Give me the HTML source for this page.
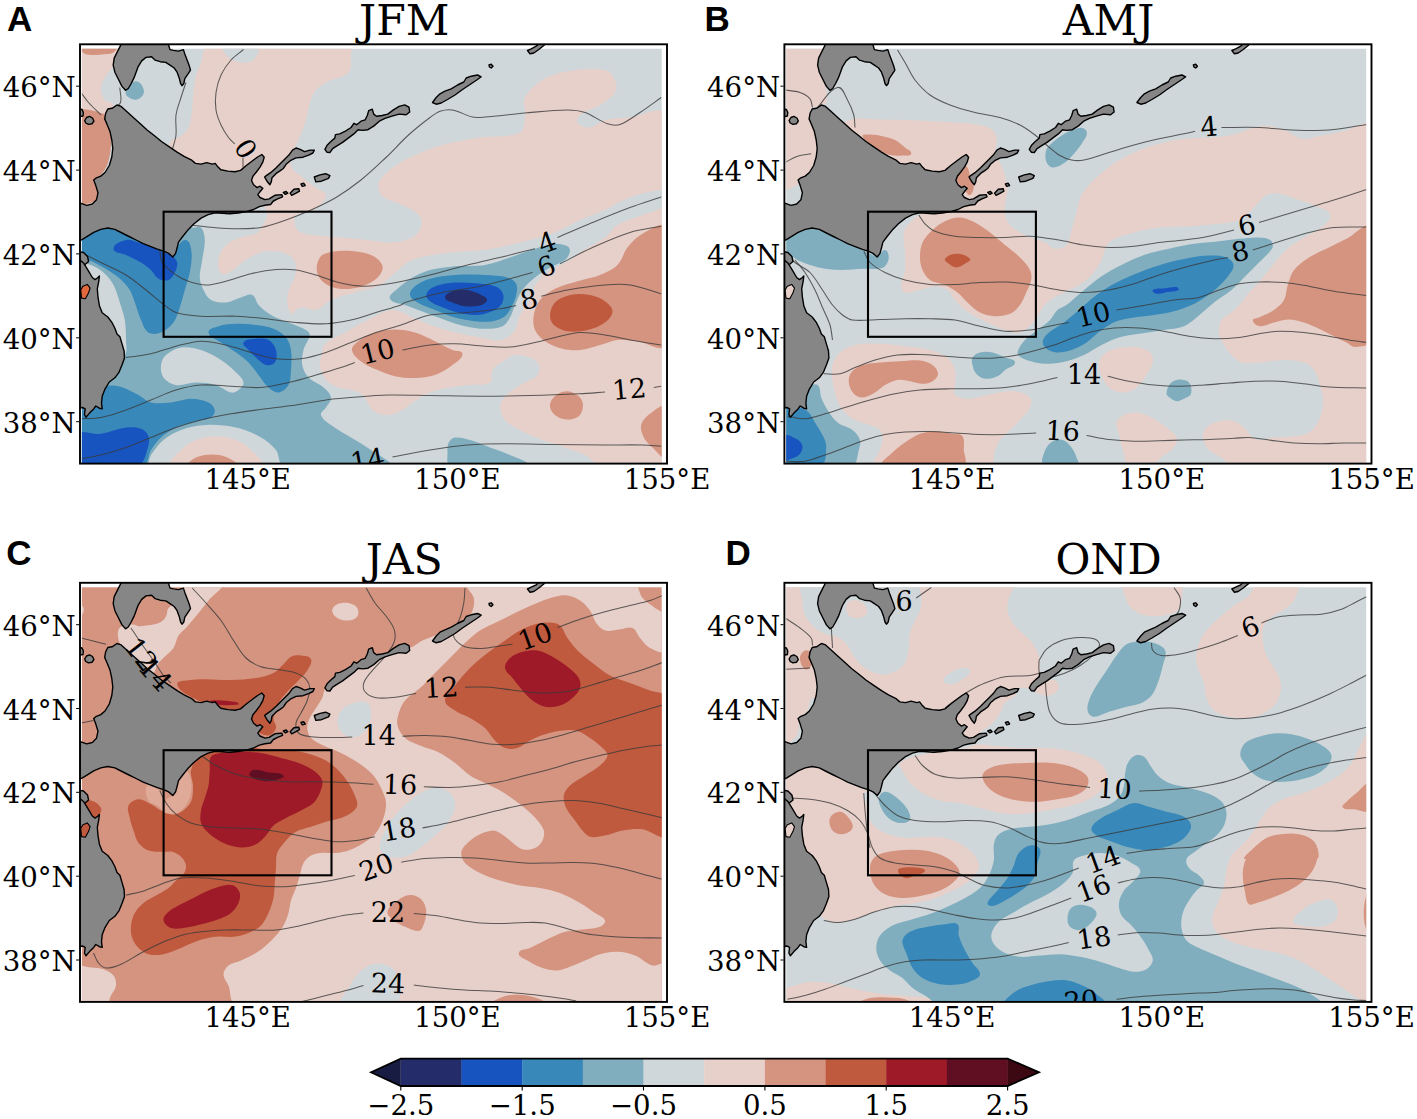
<!DOCTYPE html>
<html lang="en"><head><meta charset="utf-8"><title>Seasonal SST anomaly maps</title>
<style>html,body{margin:0;padding:0;background:#fff}svg{display:block}.se{font-family:"DejaVu Serif","Liberation Serif",serif;fill:#000}.sa{font-family:"Liberation Sans","DejaVu Sans",sans-serif;font-weight:bold;fill:#000}.cl{fill:none;stroke:#3a3a3a;stroke-width:1.05;stroke-opacity:.8}.ld{fill:#868686;stroke:#000;stroke-width:1.4;stroke-linejoin:round}</style></head><body>
<svg width="1417" height="1119" viewBox="0 0 1417 1119">
<rect width="1417" height="1119" fill="#fff"/>
<clipPath id="cfA"><rect x="81.9" y="48.7" width="579.8" height="414.9"/></clipPath>
<clipPath id="axA"><rect x="80" y="44.3" width="587" height="419.3"/></clipPath>
<g clip-path="url(#cfA)">
<rect x="80" y="44.3" width="587" height="419.3" fill="#cfd7da"/>
<path d="M76,45C79.4,31.8 105.2,38.6 117.2,45C123.2,48.2 115.9,58.7 113.5,65C111.7,69.7 107.1,73 104.8,77.5C102.9,81 101,84.8 101,88.8C101,92.7 102.4,96.9 104.8,100C106.8,102.7 113.1,102.1 113.5,105.5C113.8,108.6 106.2,108.1 106,111.2C105.3,122.5 112.2,133.8 111,145C109.7,157.2 101.7,168.2 98.5,180C96.7,186.4 97.8,193.6 96,200C95.3,202.5 93.5,205.5 91,206.2C86.3,207.7 76.5,211.2 76,206.2C71.1,153.3 62.8,96.6 76,45Z" fill="#e8d0ca"/>
<path d="M208.5,45C202.3,45.7 203.3,56.7 201,62.5C199,67.4 196.7,72.4 195.5,77.5C194,84 193.7,90.9 193,97.5C192.4,103.3 192.4,109.3 191.5,115C190.9,119.2 190.4,123.7 188.5,127.5C186.8,130.9 184,133.9 181,136.2C178.5,138.2 174.4,137.7 172.2,140C169.9,142.6 166.6,147 168.5,150C173,156.9 181.2,161.2 188.5,165C200.3,171.2 213.5,175.4 226,180C235.8,183.6 247.1,184.5 256,190C259.9,192.4 260.4,198.3 262.2,202.5C264.1,206.6 267.2,210.6 267.2,215C267.2,219.1 264.3,222.8 262.2,226.2C260.6,229 258.8,232.2 256,233.8C251.5,236.1 245.8,235.9 241,237.5C236.7,238.9 232.1,240.3 228.5,243C225.2,245.4 222.3,248.8 220.5,252.5C218.7,256.3 217.7,260.8 218,265C218.3,268.2 219.4,272.4 222.2,273.8C225,275.1 228.4,272.7 231,271.2C235.1,268.9 238.4,265.2 242.2,262.5C245.8,260 249.5,257.4 253.5,255.5C257.4,253.6 261.7,251.8 266,251.2C270.9,250.6 276.2,250.9 281,252C285,253 289.3,254.7 292.2,257.5C294.5,259.7 295.6,263.1 296,266.2C296.5,270 295.8,273.9 294.8,277.5C293.7,281 291,284 289.8,287.5C288.6,290.7 287.4,294.1 287.2,297.5C287,301.2 287.2,305.2 288.5,308.8C289.4,311.2 291.2,313.7 293.5,315C298,317.6 303.8,317.7 308.5,320C313.8,322.7 321.2,324.5 323.5,330C326.4,336.8 323,345.1 322.2,352.5C321.8,356.7 319.2,360.8 319.8,365C320.5,370.3 322.6,375.9 326,380C329.1,383.7 334,385.7 338.5,387.5C342.4,389.1 346.9,388.9 351,390C354.4,390.9 357.9,392.1 361,393.8C362.6,394.6 364,396 365,397.5C367.8,401.4 368.7,407 372.5,410C376.6,413.2 382.3,415 387.5,415C392.7,415 397.8,412.3 402.5,410C406.2,408.2 409,404.7 412.5,402.5C418.1,398.9 423.8,395 430,392.5C436.3,390 443.3,388.8 450,387.5C456.5,386.3 463.4,385.8 470,385C476.6,384.2 484.5,386.2 490,382.5C493.5,380.2 490.2,373.5 492.5,370C495.4,365.6 500.6,362.9 505,360C508.1,358 511.3,355.4 515,355C520,354.5 525.4,355.6 530,357.5C533.5,359 537.3,361.5 538.8,365C540.1,368.1 539.6,372.4 537.5,375C534.5,378.8 529.1,380 525,382.5C520.9,385 516.3,387 512.5,390C508.8,392.9 505.2,396.2 502.5,400C501,402.1 499.7,404.9 500,407.5C500.6,411.9 502,416.7 505,420C509,424.4 514.8,427.2 520,430C527.2,433.8 534.9,437.1 542.5,440C549.8,442.8 557.6,444.9 565,447.5C571.6,449.8 578.7,451.8 585,455C590.3,457.7 594.1,464.3 600,465C621.3,467.7 661.1,486.1 665,465C686.1,351.4 676.6,229.9 665,115C663.8,103.5 641.5,116.5 630,117.5C621.7,118.2 613,118 605,120C599.6,121.3 595.5,127 590,127.5C585.6,127.9 580.3,126 577.5,122.5C575.9,120.5 577.9,116.6 580,115C585.8,110.5 593.8,109 600,105C605.4,101.5 611.7,98 615,92.5C617.1,89 616.7,83.8 615,80C613.1,75.7 609.6,70.8 605,70C592.8,67.8 579.7,69.3 567.5,71.2C558.9,72.6 549.9,75.4 542.5,80C535.6,84.3 528.7,90.2 525,97.5C522.4,102.7 525.8,109.3 525,115C524.2,120.9 525.4,129.8 520,132.5C508.1,138.4 493.1,135.4 480,137.5C467.5,139.5 454.6,141.4 442.5,145C429.7,148.8 416.6,153.5 405,160C395.8,165.2 385.9,171.3 380,180C377.2,184.1 377.9,191.3 381.2,195C386.4,200.8 395.7,201.4 402.5,205C408.1,208 414.6,210.3 418.8,215C421.3,217.9 422.3,222.6 421.2,226.2C420,230.8 416.6,235.2 412.5,237.5C406.6,240.8 399.3,242.1 392.5,242.5C384.2,243 375.8,240.8 367.5,240C359.2,239.2 350.8,238.2 342.5,237.5C337.1,237 331.4,236.9 326,236.2C317.7,235.3 308.8,235.3 301,232.5C298,231.4 295.6,228.1 294.8,225C293.8,221.8 293.5,217.1 296,215C299.9,211.7 306.7,214 311,211.2C316.9,207.5 325.3,203.2 326,196.2C326.5,191 317.6,189.6 313.5,186.2C309.4,182.9 304.9,179.8 301,176.2C297.5,173.1 292.3,170.7 291,166.2C289.5,161 292,155.2 293.5,150C294.5,146.5 297.1,143.4 298.5,140C301.2,133.5 304,126.8 306,120C307.7,114.3 307.9,108.1 309.8,102.5C311.2,98.1 312.9,93.5 316,90C319.3,86.2 324.1,83.6 328.5,81.2C334.8,77.8 343.8,78 348.5,72.5C352.3,68.1 350.7,60.8 351,55C351.2,51.7 353.1,45.2 349.8,45C303.3,41.7 254.8,39.6 208.5,45Z" fill="#e8d0ca"/>
<path d="M171,465C165.2,463.9 176.8,454.2 181,450C185.2,445.8 190.5,442.2 196,440C202.3,437.5 209.3,436.2 216,436.2C222.7,436.2 229.7,437.5 236,440C241.5,442.2 246.8,445.8 251,450C255.2,454.2 266.8,463.9 261,465C231.8,470.5 200.2,470.5 171,465Z" fill="#e8d0ca"/>
<path d="M223.5,45C219.4,46.8 225.4,54.4 228.5,57.5C231.6,60.6 236.6,62.1 241,62.5C245.2,62.9 250.6,63.1 253.5,60C257,56.3 261.8,47.3 257.2,45C247.3,40 233.7,40.6 223.5,45Z" fill="#cfd7da"/>
<path d="M331,300C338.6,296.6 347.1,294.9 355,292.5C363.2,290 372.3,288.9 380,285C385.8,282.1 389.9,276.4 395,272.5C400.6,268.2 405.8,262.4 412.5,260C424.4,255.7 437.5,254.2 450,252.5C461.5,250.9 473.5,251.6 485,250C496.7,248.3 508.5,245.4 520,242.5C531.7,239.6 543.8,236.7 555,232.5C563.6,229.3 571.6,223.8 580,220C588.1,216.4 596.9,213.6 605,210C613.4,206.2 621.2,200.3 630,197.5C641.2,194 653.5,188.8 665,191.2C669.4,192.2 668.1,201.7 665,205C659.4,210.9 650,211.8 642.5,215C634.3,218.4 625.1,220.4 617.5,225C612.5,228 609.7,234.1 605,237.5C597.2,243.2 588.1,247.3 580,252.5C576.5,254.7 573.5,257.8 570,260C562.8,264.5 554.4,267.6 547.5,272.5C542.8,275.9 538.1,280.1 535,285C532.2,289.4 532.3,295.3 530,300C527.3,305.3 522.7,309.7 520,315C517.7,319.7 518,325.7 515,330C512,334.3 507.7,338.9 502.5,340C495.2,341.6 487.4,338.7 480,337.5C471.7,336.2 463.2,334.5 455,332.5C446.6,330.4 438.1,327.9 430,325C424.1,322.9 418.3,319.8 412.5,317.5C406,314.9 399.5,309.6 392.5,310C383.6,310.5 375.5,316.2 367.5,320C359.8,323.6 352.5,328.5 345,332.5C340.1,335.1 334.9,337.3 330,340C327.3,341.5 324.7,346.7 322.2,345C315.7,340.4 314,330.8 308.5,325C304.4,320.7 295.8,320.5 293.5,315C292.1,311.8 297.6,308.3 301,307.5C305.9,306.4 311.1,311.2 316,310C321.8,308.6 325.6,302.4 331,300Z" fill="#cfd7da"/>
<path d="M76,113.8C78.8,105.1 94.9,110.9 103.5,113.8C107.5,115.1 108.8,120.9 109.8,125C111.3,131.4 111.4,138.4 111,145C110.6,151.7 109.5,158.7 107.2,165C105.3,170.4 100.3,174.5 98.5,180C96.5,186.3 101,195.6 96,200C91.1,204.4 77.5,206.4 76,200C69.6,172.3 67.4,140.9 76,113.8Z" fill="#d49480"/>
<path d="M81,45C92.6,42.2 105.6,42.3 117.2,45C119.9,45.6 115.9,51.1 113.5,52.5C109.9,54.6 105.2,54 101,54.5C97.7,54.9 94.3,55.3 91,55C88.4,54.8 85.3,54.8 83.5,53C81.5,51 78.3,45.6 81,45Z" fill="#d49480"/>
<path d="M317.2,263.8C318.2,260.6 319.5,256.8 322.2,255C326.2,252.4 331.3,251.8 336,251.2C341.7,250.6 347.8,250.6 353.5,251.2C359.4,251.9 365.7,252.5 371,255C375.5,257.1 380.3,260.4 382.2,265C383.6,268.1 381.8,272.3 379.8,275C377,278.8 372.7,281.7 368.5,283.8C363.1,286.3 357,288.1 351,288.8C345.2,289.4 339.1,289 333.5,287.5C329.4,286.4 325.4,284.1 322.2,281.2C319.8,279 318.2,275.7 317.2,272.5C316.5,269.7 316.5,266.5 317.2,263.8Z" fill="#d49480"/>
<path d="M352,350C351.5,345.8 356.6,342.6 360,340C364.4,336.6 369.7,334.1 375,332.5C381.4,330.6 388.3,329.5 395,329.5C401.7,329.5 408.6,330.6 415,332.5C421.9,334.5 428.5,338.2 435,341.2C440.9,344 446.6,347.3 452.5,350C455.7,351.5 462.5,350.2 462.5,353.8C462.5,358.7 456.4,362 452.5,365C447.2,369.1 441.3,372.8 435,375C428.7,377.2 421.7,377.8 415,378C408.4,378.2 401.5,377.6 395,376.2C389,375 383.1,372.4 377.5,370C372.4,367.8 366.9,365.9 362.5,362.5C358.3,359.2 352.6,355.4 352,350Z" fill="#d49480"/>
<path d="M665,227.5C663.5,219.9 649.3,230.1 642.5,233.8C636.6,236.9 631.7,242.3 627.5,247.5C623.3,252.7 622.2,260.3 617.5,265C612.8,269.7 606.2,272.5 600,275C592.9,277.9 584.9,279 577.5,281.2C570,283.5 562,285.2 555,288.8C549.5,291.5 543.9,295.2 540,300C536.6,304.2 534.6,309.7 533.8,315C532.9,319.9 533,325.4 535,330C537,334.6 540.9,338.5 545,341.2C550.2,344.8 556.4,347.2 562.5,348.8C568.1,350.2 574.2,350.6 580,350C586.8,349.3 593.4,346.8 600,345C605.8,343.5 611.5,340.6 617.5,340C624.1,339.3 630.9,340.6 637.5,341.2C646.6,342.2 662.8,353.9 665,345C674.1,307.3 672.7,265.5 665,227.5Z" fill="#d49480"/>
<path d="M550,405C550.2,401.1 553.2,397.4 556.2,395C559.3,392.6 563.6,391 567.5,391.2C571.6,391.5 575.7,393.6 578.8,396.2C581.2,398.4 583,401.8 583,405C583,409 581.8,413.7 578.8,416.2C575.5,419 570.5,419.7 566.2,419.5C562.3,419.3 558,417.7 555,415C552.2,412.5 549.8,408.7 550,405Z" fill="#d49480"/>
<path d="M665,407.5C663.2,402.4 654.3,410.6 650,413.8C646.2,416.5 642.4,420.5 641.2,425C640.2,429.1 641.9,433.7 643.8,437.5C645.7,441.4 649.2,444.6 652.5,447.5C656.3,450.8 663.5,461.1 665,456.2C669.8,440.9 670.4,422.7 665,407.5Z" fill="#d49480"/>
<path d="M188.5,465C185.1,464.4 192.8,459 196,457.5C200.6,455.4 206,454.6 211,454.5C216,454.4 221.4,455.1 226,457C229.9,458.6 240.1,464.1 236,465C220.7,468.3 203.9,467.9 188.5,465Z" fill="#d49480"/>
<path d="M78.5,288.8C80.3,286.3 84.4,285.4 87.2,286.2C89.6,286.9 91,290.1 91,292.5C91,295.3 89.8,298.9 87.2,300C84.5,301.2 80.3,300.3 78.5,298C76.6,295.6 76.7,291.2 78.5,288.8Z" fill="#c05a3e"/>
<path d="M550,315C550.2,310.6 551.9,305.6 555,302.5C558.9,298.6 564.6,296.2 570,295C576.5,293.6 583.5,293.8 590,295C595.3,295.9 600.7,298.1 605,301.2C608.3,303.7 612.5,307.1 612.5,311.2C612.5,315.7 608.6,319.8 605,322.5C600,326.3 593.6,328.6 587.5,330C581.1,331.5 574,332.2 567.5,331.2C562.6,330.5 557.4,328.4 553.8,325C551.2,322.6 549.8,318.5 550,315Z" fill="#c05a3e"/>
<path d="M193.5,227.5C196,227.5 199.3,225.7 201,227.5C203.9,230.7 204.6,235.7 204.8,240C205,246.6 203.1,253.4 202.2,260C201.5,265.8 199.5,271.7 199.8,277.5C199.9,281.8 201.6,286.1 203.5,290C205.3,293.7 207.4,298 211,300C215.4,302.4 221,302.9 226,302.5C231.2,302.1 236,298.9 241,297.5C244.7,296.5 248.8,293.5 252.2,295C255.8,296.5 255.8,302.2 258.5,305C262.1,308.9 266.4,312.3 271,315C276.4,318.2 282.7,320 288.5,322.5C294.3,325 300.6,326.8 306,330C307.8,331 310,333 309.8,335C309.1,340.3 304.8,344.8 303.5,350C302.3,354.8 301.4,360.1 302.2,365C303.1,369.5 305.3,374.1 308.5,377.5C312.6,381.8 319.1,383.5 323.5,387.5C326.6,390.2 330.5,393.4 331,397.5C331.5,401.2 327.8,404.3 326,407.5C324.5,410.1 320.2,412.1 321,415C322.3,419.5 327.3,422.2 331,425C337.2,429.7 344.4,433.4 351,437.5C357.6,441.6 364.7,445.4 371,450C377.1,454.5 396,463.7 388.5,465C354.3,470.9 317.8,469.6 283.5,465C278,464.3 279.5,454.3 276,450C271.9,445 266.6,440.7 261,437.5C253.3,433.1 244.7,429.5 236,427.5C226.3,425.3 215.9,424.5 206,425C197.6,425.4 188.9,427.2 181,430C174.7,432.2 168.6,435.7 163.5,440C158.6,444.1 154.7,449.7 151,455C148.9,458 149.7,464.5 146,465C122.3,468.1 80.5,487.9 73.5,465C50.6,390 49.2,302 73.5,227.5C81.4,203.2 125.4,227.5 151,227.5C165,227.5 179.5,227.5 193.5,227.5Z" fill="#81aebe"/>
<path d="M161,365C161.4,361.3 163.2,357.4 166,355C170.2,351.4 175.5,348.3 181,347.5C187.6,346.6 194.7,348 201,350C208,352.2 214.8,356 221,360C226.4,363.5 231.4,367.9 236,372.5C238.9,375.4 242.9,378.4 243.5,382.5C243.9,385.4 240.8,388.1 238.5,390C236.5,391.6 233.5,393.1 231,392.5C225.6,391.3 221.3,386.5 216,385C209.6,383.2 202.7,382.5 196,382.5C189.3,382.5 182.6,386 176,385C171.2,384.3 166.4,381.3 163.5,377.5C161,374.1 160.5,369.2 161,365Z" fill="#cfd7da"/>
<path d="M76,262.5C79.9,259.3 86.3,263.3 91,265C95.5,266.6 99.9,269.3 103.5,272.5C107.4,276 111,280.4 113.5,285C116.4,290.4 117.9,296.7 119.8,302.5C121.6,308.2 123.8,314.1 124.8,320C125.8,326.5 126,333.4 126,340C126,345 127.9,351.2 124.8,355C122.4,357.9 115.4,358.2 113.5,355C106.4,343.1 107,327.4 101,315C94.5,301.6 82.4,290.9 76,277.5C73.9,273 72.2,265.7 76,262.5Z" fill="#cfd7da"/>
<path d="M126,91.2C128.4,87.2 131.3,81.2 136,81.2C140.2,81.2 143.7,87 144,91.2C144.2,94.8 140.6,98.5 137.2,99.5C133.9,100.5 130,98.3 127.2,96.2C125.9,95.2 125.1,92.7 126,91.2Z" fill="#81aebe"/>
<path d="M390,298.8C388.3,295 394.5,291.6 397.5,288.8C402,284.5 407.1,280.6 412.5,277.5C417.9,274.4 423.9,271.6 430,270C438.1,267.9 446.7,267 455,266.2C464.9,265.4 475.2,266.6 485,265C493.5,263.6 501.8,260.2 510,257.5C518.3,254.8 526.6,251.3 535,248.8C541.5,246.8 548.2,244.3 555,243.8C559.2,243.4 563.7,244.4 567.5,246.2C569.1,247.1 570.3,249.4 570,251.2C569.4,254.5 567.6,257.9 565,260C560.7,263.5 554.8,264.7 550,267.5C544.9,270.5 539.6,273.7 535,277.5C530.5,281.2 525.9,285.3 522.5,290C519.2,294.5 517.3,300 515,305C513.2,309 512.3,313.7 510,317.5C508.1,320.8 506,324.7 502.5,326.2C497.2,328.6 490.8,328.8 485,328.8C478.3,328.8 471.5,327.7 465,326.2C458.2,324.8 451.5,322.2 445,320C438.3,317.7 431.6,315 425,312.5C418.4,310 411.6,307.6 405,305C400,303 392.2,303.6 390,298.8Z" fill="#81aebe"/>
<path d="M448.8,442.5C449.9,440.1 452.4,437.8 455,437.5C460,436.9 465.2,438.6 470,440C476.8,441.9 483.4,445 490,447.5C496.6,450 503.6,452 510,455C516,457.8 534.1,463.9 527.5,465C502.3,469.2 475.3,468.9 450,465C445.8,464.4 447.7,456.7 447.5,452.5C447.3,449.2 447.3,445.5 448.8,442.5Z" fill="#81aebe"/>
<path d="M76,237.5C78.7,232.6 85.7,231.8 91,230C95.8,228.4 101.1,226.5 106,227.5C117.2,229.9 128,235.4 138.5,240C149.8,244.9 160.2,253.4 172.2,256.2C174.9,256.9 174.2,250.9 176,248.8C178.8,245.4 181.7,239 186,240C190.4,241.1 191,248 191.5,252.5C192.3,259.1 190.9,266 189.8,272.5C188.7,278.4 186.4,284.2 184.8,290C183.1,295.8 181.7,301.8 179.8,307.5C178,312.6 176.7,318.2 173.5,322.5C170.3,326.7 165.9,330.5 161,332.5C157.2,334 152,334.7 148.5,332.5C144.4,330 143,324.4 141,320C138.4,314.4 136.9,308.2 134.8,302.5C133.2,298.3 132.2,293.7 129.8,290C126.7,285.3 122.7,281.1 118.5,277.5C114,273.6 108.6,270.5 103.5,267.5C98.7,264.7 93.7,261.9 88.5,260C84.5,258.6 78,261.2 76,257.5C72.8,251.7 72.8,243.3 76,237.5Z" fill="#3888ba"/>
<path d="M208.5,332.5C207.9,328.7 214.8,327.4 218.5,326.2C224.1,324.5 230.2,323.9 236,323.8C242.6,323.5 249.4,324.1 256,325C261.9,325.8 268,326.5 273.5,328.8C278.1,330.7 282.8,333.6 286,337.5C288.8,340.9 290.3,345.6 291,350C292,356.5 291.5,363.4 291,370C290.6,375 290.9,380.6 288.5,385C286.5,388.6 282.6,392 278.5,392.5C274.8,393 271.3,389.9 268.5,387.5C264.5,384 261.8,379.1 258.5,375C255.2,370.9 252.2,366.2 248.5,362.5C244.8,358.8 240.3,355.6 236,352.5C231.2,349 225.8,346 221,342.5C216.7,339.4 209.3,337.7 208.5,332.5Z" fill="#3888ba"/>
<path d="M73.5,410C78,398.5 92.6,393.3 103.5,387.5C107.9,385.2 113.6,385.2 118.5,386.2C125.5,387.8 132.1,391.8 138.5,395C142.8,397.2 146.3,401.4 151,402.5C157.4,404 164.4,403.1 171,402.5C177.7,401.9 184.3,398.8 191,398.8C196.9,398.8 203.2,400 208.5,402.5C211.4,403.9 214.2,406.8 214.8,410C215.2,412.7 213.4,416.1 211,417.5C206.6,420.1 200.9,419.8 196,421.2C189.4,423.1 182.3,424.6 176,427.5C170.6,430 165.4,433.5 161,437.5C157.1,441 153.8,445.5 151,450C148,454.7 148.9,463.9 143.5,465C120.8,469.4 91.7,479.3 73.5,465C59.2,453.8 66.9,426.9 73.5,410Z" fill="#3888ba"/>
<path d="M410,295C409.5,291.7 412.4,288.3 415,286.2C419.3,282.8 424.7,280.2 430,278.8C438,276.5 446.7,275.6 455,275C464.9,274.3 475.1,274.5 485,275C492.5,275.4 500.3,275.5 507.5,277.5C510.9,278.5 514.7,280.6 516.2,283.8C517.9,287.1 517,291.4 516.2,295C515.3,299.3 513.3,303.6 511.2,307.5C509.6,310.6 507.9,314.2 505,316.2C501.4,318.9 496.9,320.5 492.5,321.2C486.8,322.2 480.7,321.8 475,321.2C468.3,320.6 461.5,319.3 455,317.5C448.2,315.6 441.5,312.6 435,310C429.2,307.7 422.9,305.7 417.5,302.5C414.5,300.7 410.5,298.5 410,295Z" fill="#3888ba"/>
<path d="M113.5,248.8C113.5,243.7 121.1,241.2 126,240C130.1,239 134.5,241.3 138.5,242.5C145.2,244.6 152,247.3 158.5,250C163.1,251.9 168.1,253.5 172.2,256.2C174.4,257.7 176.8,259.9 177.2,262.5C177.8,265.9 176.3,269.5 174.8,272.5C173.3,275.4 171.5,278.8 168.5,280C165.4,281.2 161.4,280.4 158.5,278.8C155.2,276.9 153.8,272.6 151,270C148,267.2 144.5,264.6 141,262.5C136.3,259.7 130.9,257.5 126,255C121.9,252.9 113.5,253.4 113.5,248.8Z" fill="#1854c0"/>
<path d="M243.5,342.5C245.9,338.9 251.7,339.2 256,338.8C260.1,338.3 264.9,338 268.5,340C272.1,342 274.9,346 276,350C277.1,354 277,359.1 274.8,362.5C273.1,365 268.9,365.8 266,365C262,363.9 259.1,360.2 256,357.5C253.3,355.2 250.7,352.7 248.5,350C246.6,347.7 241.8,345 243.5,342.5Z" fill="#1854c0"/>
<path d="M73.5,435C79.5,428.2 92,435 101,433.8C109.4,432.5 117.6,428.6 126,427.5C130.9,426.9 136.4,426.9 141,428.8C144.3,430 147.5,432.9 148.5,436.2C149.8,440.6 148.7,445.7 147.2,450C145.4,455.4 144.1,463.9 138.5,465C117.5,469.3 93,474 73.5,465C64.5,460.9 67,442.4 73.5,435Z" fill="#1854c0"/>
<path d="M426.2,295C426.8,291.8 429.6,289 432.5,287.5C437.8,284.8 444.1,283.7 450,283C457.4,282.2 465.1,282.5 472.5,283C480,283.5 487.8,284 495,286.2C498.1,287.2 501.1,289.6 502.5,292.5C503.9,295.5 503.8,299.5 502.5,302.5C501.1,305.7 498.1,308.4 495,310C489.6,312.7 483.5,314.6 477.5,315C470.9,315.4 464,314 457.5,312.5C451.5,311.1 445.7,308.6 440,306.2C436.6,304.9 432.9,303.6 430,301.2C428.1,299.7 425.8,297.4 426.2,295Z" fill="#1854c0"/>
<path d="M445,297.5C445,294.3 449.4,292.3 452.5,291.2C457.2,289.7 462.6,289.4 467.5,290C472.3,290.6 477,292.8 481.2,295C483.5,296.1 487.3,297.5 487,300C486.7,302.9 482.8,304.7 480,305.5C475.2,306.9 469.9,306.8 465,306.2C460.7,305.8 456.4,304.2 452.5,302.5C449.8,301.3 445,300.5 445,297.5Z" fill="#252c6a"/>
</g>
<g clip-path="url(#cfA)" class="cl">
<path d="M243.5,49.5C239.4,53 234.6,56 231,60C227.1,64.5 223.5,69.6 221,75C218.5,80.5 216.8,86.6 216,92.5C215.2,98.2 215.1,104.3 216,110C216.8,115.2 218.8,120.2 221,125C223,129.4 225.7,133.6 228.5,137.5C230.2,139.9 232.7,141.7 234.8,143.8"/>
<path d="M243,157.5 L243,167.5"/>
<path d="M81,92.5C83.5,95.8 85.8,99.4 88.5,102.5C92.4,106.9 96.9,110.9 101,115"/>
<path d="M119.8,87.5C120,92.5 121.9,97.7 120.5,102.5C119.6,105.5 115.8,106.7 113.5,108.8"/>
<path d="M186,82.5C184.3,87.5 182.5,92.5 181,97.5C179.2,103.2 176.8,109 176,115C175.1,121.5 176.7,128.4 176,135C175.5,140.1 173.5,145.1 172.2,150"/>
<path d="M191,225C198.4,225.8 206.1,226.9 213.5,227.5C220.9,228.1 228.6,228.8 236,228.8C244.3,228.8 252.9,228.9 261,227.5C269.5,226 277.9,222.8 286,220C294.4,217.1 302.9,213.6 311,210C319.4,206.2 328.1,202.2 336,197.5C344.6,192.3 353.1,186.3 361,180C369.7,173.1 377.9,165.1 386,157.5C393.6,150.3 400.7,142.1 408.5,135C415.3,128.8 422.7,123 430,117.5C433.1,115.2 436.3,112.5 440,111.2C443.9,109.9 448.4,109.3 452.5,110C459.4,111.2 465.7,115.5 472.5,117C476.5,117.9 480.9,117.3 485,117C498.2,116 511.8,114.1 525,113C539,111.8 553.4,110.1 567.5,110C573.3,110 579.5,110.6 585,112.5C592.9,115.2 599.6,121.1 607.5,123.8C611.4,125.1 616.1,125.9 620,124.5C627.3,122 633.6,116.7 640,112.5C647.2,107.8 654.2,102.5 661.2,97.5"/>
<path d="M159.8,250C160.6,254.1 160,259 162.2,262.5C165.6,267.6 171,271.4 176,275C179.8,277.7 184.1,279.8 188.5,281.2C194.1,283.1 200.1,285 206,285C212.7,285 219.5,282.9 226,281.2C234.4,279.2 242.6,275.7 251,273.8C259.1,271.8 267.7,270.2 276,269.5C282.6,269 289.5,269.1 296,270C302.7,270.9 309.5,273.1 316,275C323.5,277.2 330.9,280.7 338.5,282.5C346.6,284.4 355.2,286 363.5,286.2C371.8,286.5 380.3,285 388.5,283.8C396.8,282.5 405.3,280.5 413.5,278.8C419,277.6 424.6,276.4 430,275C442.4,271.8 455.1,268.1 467.5,265C479.8,261.9 492.6,259.2 505,256.2C514.9,253.9 525.1,251.2 535,248.8"/>
<path d="M557.5,237.5C569,232.6 580.9,227.3 592.5,222.5C604.8,217.4 617.5,212.1 630,207.5C640.2,203.7 650.9,200.5 661.2,197"/>
<path d="M81,252.5C87.6,255.8 94.4,259.2 101,262.5C109.2,266.6 118.1,270.2 126,275C133,279.3 139.5,284.9 146,290C151.1,294 155.8,298.6 161,302.5C165.8,306.1 170.4,310.6 176,312.5C183.9,315.2 192.7,315.7 201,316.2C212.5,317 224.5,315.8 236,316.2C245.9,316.6 256.1,317.7 266,318.8C275.9,319.8 286.1,321.7 296,322.5C305.9,323.3 316.1,324.2 326,323.8C334.3,323.4 342.9,321.8 351,320C359.4,318.1 367.8,315 376,312.5C384.2,310 392.9,307.8 401,305C402.5,304.5 403.5,302.9 405,302.5C417.3,298.8 430,295.2 442.5,292.5C454.8,289.8 467.7,288.8 480,286.2C490,284.2 500.1,281.3 510,278.8C517.5,276.8 525.1,274.6 532.5,272.5"/>
<path d="M560,263.8C570.7,258.4 581.6,252.4 592.5,247.5C604.7,242.1 617.3,236.4 630,232.5C640,229.4 650.9,228.3 661.2,226.2"/>
<path d="M126,357.5C134.2,356.3 142.9,355.6 151,353.8C159.4,351.9 167.6,348.3 176,346.2C184.2,344.2 192.6,341.5 201,341.2C209.3,341 217.9,343.2 226,345C234.4,346.9 242.7,350.2 251,352.5C259.2,354.8 267.6,357.7 276,358.8C284.2,359.8 292.8,359.8 301,358.8C309.4,357.7 317.9,355.1 326,352.5C334.5,349.8 342.8,345.8 351,342.5C359.2,339.2 367.6,335.4 376,332.5C384.1,329.7 392.8,327.7 401,325C410.6,321.9 420.1,316.9 430,315C442.2,312.7 455.1,313.6 467.5,312.5C478.3,311.5 489.3,310.3 500,308.8C505.4,308 510.9,306.6 516.2,305.5"/>
<path d="M541.2,296.2C549.9,294.2 558.7,291.5 567.5,290C579.8,287.8 592.6,286 605,285C613.2,284.3 621.8,283.7 630,285C640.6,286.6 650.9,290.9 661.2,293.8"/>
<path d="M79.8,418.8C86.8,418.3 94.1,418.8 101,417.5C109.5,415.9 117.9,412.8 126,410C134.4,407.1 142.8,403.3 151,400C159.2,396.7 167.5,392.6 176,390C184.1,387.6 192.6,385.6 201,385C210.9,384.3 221.1,385.8 231,386.2C240.9,386.7 251.1,388.1 261,387.5C270.2,386.9 279.5,384.5 288.5,382.5C297.7,380.4 307,377.6 316,375C324.3,372.6 332.8,370.1 341,367.5C345.6,366 350.2,364.1 354.8,362.5"/>
<path d="M402.5,350C411.6,348.4 420.8,346.1 430,345C438.2,344 446.7,343.6 455,343.8C464.9,344 475.1,345.7 485,346.2C493.2,346.7 501.8,347.6 510,347C518.4,346.4 526.8,344.2 535,342.5C541.7,341.1 548.4,339 555,337.5C563.2,335.7 571.6,332.9 580,332.5C588.3,332.1 596.8,333.8 605,335C613.3,336.2 621.7,338.5 630,340C640.3,341.8 650.9,343.4 661.2,345"/>
<path d="M81,458.8C87.6,457.5 94.5,456.6 101,455C109.4,452.9 117.9,450.3 126,447.5C134.4,444.6 142.8,440.8 151,437.5C159.2,434.2 167.6,430.4 176,427.5C184.1,424.7 192.6,422.1 201,420C210.8,417.5 221,415.5 231,413.8C242.5,411.8 254.4,410.3 266,408.8C275.9,407.4 286.1,406.4 296,405C305.9,403.6 316.1,401.4 326,400C334.2,398.9 342.7,398.2 351,397.5C363.4,396.5 376.1,395.3 388.5,395C402.2,394.7 416.3,395.3 430,395.5C446.5,395.7 463.5,396.2 480,396.2C496.5,396.2 513.5,395.9 530,395.5C546.5,395.1 563.5,394.5 580,393.8C588.3,393.4 596.8,392.6 605,392"/>
<path d="M653.8,387.5 L661.2,386.2"/>
<path d="M392.5,457C404.9,454.7 417.6,452 430,450C442.3,448 455.1,446 467.5,445C479.8,444 492.6,443.8 505,443.8C521.5,443.7 538.5,444.3 555,444.5C571.5,444.7 588.5,444.9 605,445C617.4,445.1 630.1,444.7 642.5,445C648.7,445.1 655.1,445.8 661.2,446.2"/>
</g>
<g clip-path="url(#axA)" class="ld">
<path d="M78,251.5L83.5,252.5L87.5,256.5L88.6,261.5L85,264.5L78,266Z"/>
<path d="M107.8,109L112.1,108.3L117,105L120.6,106.1L126.2,111.1L133.3,117.4L140.3,123.8L147.4,130.2L154.5,135.8L161.5,141.5L168.6,146.4L177.1,152.1L184.1,156.3L191.2,159.8L195.4,163.4L201.1,164.1L206.7,162.6L212.4,164.1L215.2,163.4L217.3,166.2L220.8,169.7L227.9,171.1L235,171.8L240.6,170.4L246.3,165.5L251.9,161.2L257.6,157L261.8,154.5L264.2,157.2L262.8,162.1L260,167.1L256.4,172L252.9,176.3L251.5,180.5L253.6,184.7L257.1,187.6L260,186.2L262.8,188.3L260,191.8L257.8,194.6L260,197.5L264.9,199.6L269.1,198.9L274.8,195.3L281.9,194.6L282.6,196.8L277.6,198.9L273.4,201L270.6,204.5L264.9,205.2L259.3,206.6L253.6,209.5L246.5,211.6L238.1,213L229.6,213.7L229.3,213.9L222.3,213.2L215.2,212.8L208.1,214.6L201.1,218.1L194,223.8L188.4,229.4L182.7,236.5L178.5,242.1L177.1,247.8L175.6,253.4L172.8,257L168.6,253.4L164.3,251.3L157.3,249.2L150.2,246.4L143.2,243.6L136.1,240L129,236.5L122,233L114.9,229.4L107.8,228L100.8,229.4L93.7,232.3L88.1,235.8L82.4,239.3L75.4,242.9L75.4,202.3L81,203.3L86.7,205.4L92.3,204L96.5,199.8L98,192.7L95.8,185.6L93.7,180L95.8,178.2L100.8,176.1L105,172.5L109.3,165.5L111.8,157L112.8,148.5L111.8,140L110,131.6L107.1,124.5L104.7,118.9L105.7,113.2Z"/>
<path d="M122,42.6L117.7,51.1L114.2,58.1L113.2,65.2L114.9,72.2L118.4,79.3L122,86.4L125.5,90.3L128.3,88.5L131.2,83.5L134,77.9L136.1,72.2L138.2,66.6L141.7,60.9L146,57.4L151.6,56.7L155.2,60.2L160.1,61.7L165.8,62.4L170,65.2L174.2,68L177.1,72.2L179.2,77.9L180.6,83.5L182,85.7L183.8,83.5L184.8,78.6L187.7,74.4L190.5,70.1L189.1,65.2L186.9,59.5L184.8,53.9L183.4,49.6L178.5,51.1L173.5,50.4L170,49.6L167.9,42.6Z"/>
<path d="M264.6,177L267,181.2L269.9,184.7L271.3,181.9L272,177.7L276.2,173.4L280.4,170.6L283.3,168.5L286.1,164.3L290.3,160.7L296,157.9L303,157.2L308.7,155.1L312.9,153L314.3,150.1L310.1,150.1L304.5,151.6L300.2,149.4L296,148L292.5,150.1L288.9,155.1L284.7,159.3L280.4,163.6L276.2,167.8L270.6,172.7L266.3,175.6Z"/>
<path d="M324.9,149.4L327.1,152.3L329.9,152.5L332.7,148.7L336.9,145.9L342.6,142.4L348.2,138.1L353.9,133.9L358.1,129.7L362.4,130.4L368,129.7L373.7,126.1L379.3,121.2L385,118.4L392,116.2L399.1,114.1L406.2,114.8L409.7,112L409,107.1L404.7,104.9L399.1,106.4L393.4,109.9L387.8,114.1L382.1,115.5L376.5,116.2L373.7,114.1L372.3,109.2L368.7,110.6L367.3,115.5L365.2,119.8L361,121.2L356.7,124.7L353.9,123.3L351.1,127.5L345.4,131.1L339.8,133.9L335.5,134.6L334.8,138.1L330.6,141.7L327.1,145.2Z"/>
<path d="M314.3,177L315.8,181.9L321.4,181.2L328.5,178.4L329.9,175.6L325.6,173.7L320,174.9Z"/>
<path d="M283.3,192.5L286.1,191.5L287.8,193.2L285.4,194.4Z"/>
<path d="M290.1,193.2L293.9,189.3L298.8,188.7L299.5,191.1L296,193.2L291.7,195.3Z"/>
<path d="M300.9,184L303.8,183.3L305.2,185.5L302.3,186.4Z"/>
<path d="M432.5,102.5L436.2,104.2L441.2,103L447.5,99.5L455,95L462.5,89.5L470,84.5L477.5,79.5L481.2,76.8L477.5,75L471.2,76.2L466.2,78L463.8,82L457.5,85L451.2,88.8L445,91.2L440,93.8L436.2,97.5Z"/>
<path d="M489,65L491.2,64.2L493,66.2L491.2,68L489.5,67Z"/>
<path d="M527.5,50.5L530,53.8L533.8,53L538.8,49.5L543.8,45.5L547.5,40L542.5,40L536.2,46.2L531.2,48.8Z"/>
<path d="M75.4,259.1L79.6,259.8L83.8,263.3L88.1,270.4L92.3,277.5L95.1,279.6L98,277.5L99.4,276L98.7,281.7L97.3,288.8L98,297.2L99.4,305.7L102.2,312.8L107.8,317L112.1,322.7L114.9,328.3L117,334L119.9,336.8L122,343.9L124.1,351L124.5,358L122,365.1L119.1,372.1L114.9,377.8L109.3,382L105,389.1L102.2,396.2L101.5,403.2L102.2,408.9L99.4,408.2L95.8,406L93.7,408.9L89.5,413.1L86,417.3L84.5,414.5L85.2,408.9L82.4,407.5L75.4,408.9Z"/>
<path d="M84.7,120.5L86.5,117.5L89.5,116.4L92.5,118L93.9,121L92,123.8L88.5,124.4L85.8,123Z"/>
<path d="M78,108.5L82,109.5L83.4,112.5L83,116L78,117Z"/>
<path d="M80.7,290L82.9,286.3L87.3,284.4L90.1,288.1L88.5,293.1L85.4,298.8L81.6,298.1Z" fill="#e2693d" stroke="#000" stroke-width="1.1"/>
</g>
<g clip-path="url(#axA)" class="se" font-size="27" text-anchor="middle">
<text x="246" y="148.5" transform="rotate(57 246 148.5)" dy="9.8">0</text>
<text x="547" y="242" transform="rotate(-20 547 242)" dy="9.8">4</text>
<text x="546.2" y="266.2" transform="rotate(-20 546.2 266.2)" dy="9.8">6</text>
<text x="528.8" y="298.8" transform="rotate(-12 528.8 298.8)" dy="9.8">8</text>
<text x="377.5" y="351.2" transform="rotate(-14 377.5 351.2)" dy="9.8">10</text>
<text x="629.2" y="388.8" transform="rotate(-5 629.2 388.8)" dy="9.8">12</text>
<text x="367.5" y="459.5" transform="rotate(-10 367.5 459.5)" dy="9.8">14</text>
</g>
<rect x="163.6" y="211.7" width="167.9" height="125.1" fill="none" stroke="#000" stroke-width="2.1"/>
<rect x="80" y="44.3" width="587" height="419.3" fill="none" stroke="#000" stroke-width="1.9"/>
<g class="se" font-size="27.6">
<path d="M79.1,86.2 h-3" stroke="#000" stroke-width="1"/>
<text x="75.7" y="97.2" text-anchor="end">46°N</text>
<path d="M79.1,170.1 h-3" stroke="#000" stroke-width="1"/>
<text x="75.7" y="181.1" text-anchor="end">44°N</text>
<path d="M79.1,253.9 h-3" stroke="#000" stroke-width="1"/>
<text x="75.7" y="264.9" text-anchor="end">42°N</text>
<path d="M79.1,337.8 h-3" stroke="#000" stroke-width="1"/>
<text x="75.7" y="348.8" text-anchor="end">40°N</text>
<path d="M79.1,421.7 h-3" stroke="#000" stroke-width="1"/>
<text x="75.7" y="432.7" text-anchor="end">38°N</text>
<text x="247.7" y="488.8" text-anchor="middle">145°E</text>
<text x="457.4" y="488.8" text-anchor="middle">150°E</text>
<text x="667" y="488.8" text-anchor="middle">155°E</text>
</g>
<text class="se" font-size="42.6" text-anchor="middle" x="404.2" y="35">JFM</text>
<text class="sa" font-size="35" x="6.9" y="31">A</text>
<clipPath id="cfB"><rect x="786.3" y="48.7" width="579.9" height="414.9"/></clipPath>
<clipPath id="axB"><rect x="784.4" y="44.3" width="587.1" height="419.3"/></clipPath>
<g clip-path="url(#cfB)">
<rect x="784.4" y="44.3" width="587.1" height="419.3" fill="#cfd7da"/>
<path d="M780,45C783.8,31.9 809.2,38.6 821.2,45C827.2,48.2 817.5,58.3 817.5,65C817.5,68.5 820.1,71.7 821.2,75C823,79.9 825.3,84.9 826.2,90C827,94.1 828.2,98.9 826.2,102.5C824.8,105.3 820.4,104.9 817.5,106.2C815,107.4 810.4,107.3 810,110C809,116.6 812.3,123.4 813.8,130C814.8,135 817.3,139.9 817.5,145C817.7,150 816.3,155.2 815,160C813.8,164.3 812.1,168.6 810,172.5C808.3,175.6 806.9,179.7 803.8,181.2C796.5,184.9 781.4,195.5 780,187.5C771.9,141.2 766.9,90.2 780,45Z" fill="#e8d0ca"/>
<path d="M843.8,122.5C847.3,120.7 851.1,119.1 855,118.8C863.2,118.1 871.7,119.3 880,119.5C888.2,119.7 896.8,119.7 905,120C913.3,120.3 921.8,120.8 930,121.2C938.2,121.7 946.8,121.9 955,122.5C963.3,123.1 971.9,123.4 980,125C984.4,125.9 989.2,127.1 992.5,130C995.2,132.4 996.6,136.4 997,140C997.5,144.2 994.4,148.4 995,152.5C995.5,156.2 998.5,159.1 1000,162.5C1001.8,166.6 1003.8,170.7 1005,175C1006.3,179.8 1007.5,185 1007.5,190C1007.5,195 1005.5,200 1005,205C1004.7,208.3 1004.2,211.8 1005,215C1005.9,218.6 1007.6,222.2 1010,225C1012.7,228.1 1016.5,230.3 1020,232.5C1023.1,234.5 1026.6,236.1 1030,237.5C1034.8,239.4 1040.2,240.4 1045,242.5C1048.5,244.1 1051.1,248.3 1055,248.8C1059,249.2 1063.9,248 1066.5,245C1069.9,241.1 1070,235 1071.5,230C1073.3,224.3 1074.8,218.3 1076.5,212.5C1078.2,206.7 1078.7,200.3 1081.5,195C1084.6,189.3 1089.4,184.6 1094,180C1099.4,174.6 1105.2,169.3 1111.5,165C1118.5,160.2 1126.2,156 1134,152.5C1142,148.9 1150.6,146.1 1159,143.8C1167.1,141.5 1175.7,139.8 1184,138.8C1192.2,137.7 1200.8,138.2 1209,137.5C1217.3,136.8 1225.9,136.3 1234,134.5C1240.8,133 1247.2,129.1 1254,127.5C1258.8,126.4 1264.1,125.7 1269,126.2C1275,126.9 1280.9,129.1 1286.5,131.2C1291.7,133.2 1296,137.9 1301.5,138.8C1307.3,139.6 1313.3,137.3 1319,136.2C1327.3,134.8 1335.7,132.9 1344,131.2C1352.7,129.6 1369.6,117.5 1370.2,126.2C1379,237.7 1412.6,361.6 1370.2,465C1352.9,507.4 1277.2,467.3 1231.5,465C1227.4,464.8 1224.9,459.8 1221.5,457.5C1217.5,454.8 1212.3,453.5 1209,450C1205.8,446.6 1203.3,442.1 1202.8,437.5C1202.4,434 1204,430 1206.5,427.5C1209.8,424.2 1214.5,422.3 1219,421.2C1223.8,420.2 1229.2,420 1234,421.2C1237.8,422.2 1241,425 1244,427.5C1246.9,430 1248.6,433.8 1251.5,436.2C1253.6,438 1256.2,439.8 1259,440C1264,440.3 1269,438 1274,437.5C1280.6,436.8 1287.5,437.2 1294,436.2C1299.1,435.5 1304.4,434.8 1309,432.5C1312.1,430.9 1314.6,428 1316.5,425C1318.9,421.2 1320.5,416.8 1321.5,412.5C1322.6,407.7 1323.2,402.4 1322.8,397.5C1322.3,392.4 1320.5,387.4 1319,382.5C1317.7,378.3 1316.7,373.6 1314,370C1311.5,366.7 1307.9,363.8 1304,362.5C1297.7,360.4 1290.7,360 1284,360C1275.7,360 1267.3,362 1259,362.5C1253.2,362.8 1247.2,363.6 1241.5,362.5C1238.6,361.9 1236.1,359.6 1234,357.5C1230.3,353.8 1226.7,349.5 1224,345C1221.7,341.2 1219.4,336.9 1219,332.5C1218.6,328.3 1219.3,323.6 1221.5,320C1223.7,316.5 1228.4,315.2 1231.5,312.5C1235,309.4 1238.4,306 1241.5,302.5C1244.2,299.4 1246.3,295.6 1249,292.5C1252.1,289 1255.9,286 1259,282.5C1262.5,278.6 1265.7,274.1 1269,270C1272.3,265.9 1275.5,261.4 1279,257.5C1282.1,254 1285.4,250.4 1289,247.5C1293.6,243.8 1298.9,240.6 1304,237.5C1309.7,234 1316.4,231.8 1321.5,227.5C1325.3,224.2 1331.4,219.9 1330.2,215C1329,209.8 1321.3,208.6 1316.5,206.2C1311,203.6 1304.8,201.9 1299,200C1292.4,197.8 1285.8,194.8 1279,193.8C1274.9,193.1 1270.1,193 1266.5,195C1261.4,197.8 1258.3,203.6 1254,207.5C1249.2,211.8 1244.8,217.3 1239,220C1232.9,222.8 1225.7,222.9 1219,223.8C1209.1,225 1198.9,225.6 1189,226.2C1179.1,226.9 1168.8,226.4 1159,227.5C1150.6,228.4 1142.1,230.1 1134,232.5C1125.5,235.1 1115.8,236.8 1109,242.5C1104.2,246.6 1104.5,254.5 1101.5,260C1098.7,265.2 1095.5,270.6 1091.5,275C1088,278.9 1083.5,282.2 1079,285C1074.3,288 1068.9,290 1064,292.5C1059.3,294.9 1054.3,297 1050,300C1047.1,302 1044.6,304.7 1042.5,307.5C1039.6,311.3 1038.2,316.4 1035,320C1030.7,324.8 1026.1,330.5 1020,332.5C1015.2,334.1 1009.8,331.3 1005,330C1000.7,328.8 996.5,326.8 992.5,325C987.5,322.7 982.4,320.2 977.5,317.5C973.3,315.2 968.8,313 965,310C961.3,307.1 958.1,303.5 955,300C952.3,296.9 950.9,292.3 947.5,290C944,287.6 939.3,286.2 935,286.2C929.9,286.2 925,289 920,290C915.1,291 909.9,293.5 905,292.5C902.6,292 901.2,288.7 901.2,286.2C901.2,280.7 904.4,275.5 905,270C905.6,264.3 905.2,258.3 905,252.5C904.8,245.9 902.7,239 903.8,232.5C904.4,228.7 907.5,225.5 910,222.5C912.5,219.6 915.7,217.3 918.8,215C919.1,214.8 919.7,215.2 920,215C926.7,210.2 935.4,206.9 940,200C942.7,195.9 944,187.9 940,185C930.2,178 915.9,179.9 905,175C890.2,168.3 875.5,159.8 862.5,150C853.9,143.5 846.1,135.2 840,126.2C839,124.8 842.2,123.3 843.8,122.5Z" fill="#e8d0ca"/>
<path d="M832.5,365C833.8,360.4 836.4,355.7 840,352.5C844.1,348.8 849.6,346.2 855,345C863.1,343.2 871.7,343.5 880,343.8C888.3,344 896.8,345.2 905,346.2C913.3,347.3 921.9,347.9 930,350C936.1,351.6 942.6,353.6 947.5,357.5C951.3,360.5 953.7,365.4 955,370C956.3,374.8 955,380.1 955,385C955,388.3 952.6,392.8 955,395C958.8,398.4 964.9,398.9 970,398.8C977.6,398.5 985,395 992.5,393.8C999.9,392.5 1007.6,390.5 1015,391.2C1020.3,391.8 1026.4,393.6 1030,397.5C1032.2,399.9 1031.3,404.5 1030,407.5C1027.9,412.3 1023.5,416.1 1020,420C1016.9,423.5 1013.3,426.7 1010,430C1006.7,433.3 1002.8,436.3 1000,440C997.8,443 996.4,446.6 995,450C993.1,454.8 995.2,464.4 990,465C952.3,469.7 912.6,470.1 875,465C869.8,464.3 878.5,455 880,450C881,446.7 882.5,443.4 882.5,440C882.5,436.6 882.2,432.6 880,430C877.6,427.2 873.4,426.4 870,425C865.2,423.1 859.6,422.5 855,420C850.4,417.5 845.9,414.1 842.5,410C839.5,406.5 837.7,401.9 836.2,397.5C834.4,391.9 833.2,385.9 832.5,380C831.9,375.1 831.2,369.8 832.5,365Z" fill="#e8d0ca"/>
<path d="M1099,362.5C1099.9,358.5 1103.1,354.8 1106.5,352.5C1110.8,349.6 1116.3,348.3 1121.5,347.5C1127.2,346.6 1133.3,346.5 1139,347.5C1143,348.2 1147.5,349.5 1150.2,352.5C1152.5,355 1153.3,359.1 1152.8,362.5C1152,367 1149,371.1 1146.5,375C1143.6,379.4 1140.7,384.3 1136.5,387.5C1133,390.2 1128.4,392.5 1124,392.5C1118.8,392.5 1113.1,390.7 1109,387.5C1105.2,384.5 1103.3,379.5 1101.5,375C1099.9,371.1 1098.1,366.6 1099,362.5Z" fill="#e8d0ca"/>
<path d="M1116.5,422.5C1117.3,419.1 1120.9,416.6 1124,415C1127.8,413.1 1132.3,412.1 1136.5,412.5C1141.7,413 1146.8,415.2 1151.5,417.5C1156.8,420.2 1161.9,423.8 1166.5,427.5C1170.1,430.4 1174.9,433.1 1176.5,437.5C1177.7,440.7 1176,444.7 1174,447.5C1171.6,450.9 1167.3,452.5 1164,455C1159.8,458.2 1156.6,463.5 1151.5,465C1144.4,467 1135.6,468.4 1129,465C1124.2,462.5 1124.4,455.1 1122.8,450C1121.1,445.2 1120.1,440 1119,435C1118.1,430.9 1115.5,426.6 1116.5,422.5Z" fill="#e8d0ca"/>
<path d="M782.5,287.5C784.5,284.7 789.2,284.3 792.5,285C794.3,285.4 795.2,288.2 795,290C794.7,292.8 793.5,295.9 791.2,297.5C788.9,299.2 784.4,300.9 782.5,298.8C780.1,296 780.3,290.5 782.5,287.5Z" fill="#e8d0ca"/>
<path d="M920,257.5C920,252.5 920.4,247.1 922.5,242.5C924.7,237.7 928.7,233.6 932.5,230C936.2,226.5 940.4,223.3 945,221.2C949.6,219.1 954.9,217.3 960,217.5C965.2,217.7 970.3,220.2 975,222.5C980.3,225.2 985.2,228.9 990,232.5C995.2,236.4 1000,240.9 1005,245C1010,249.1 1015.4,252.9 1020,257.5C1023.7,261.2 1027.6,265.3 1030,270C1031.5,273 1031.8,276.7 1031.2,280C1030.5,284.4 1028.1,288.4 1026.2,292.5C1024.4,296.7 1022.8,301.3 1020,305C1017.3,308.5 1014,312 1010,313.8C1005.4,315.8 1000,316.5 995,316.2C989.9,316 984.6,314.8 980,312.5C975.3,310.1 971.4,306 967.5,302.5C964,299.4 961.2,295.4 957.5,292.5C953.7,289.5 949.4,287 945,285C940.2,282.8 934.3,282.9 930,280C926.6,277.7 924.2,273.8 922.5,270C920.8,266.2 920,261.7 920,257.5Z" fill="#d49480"/>
<path d="M862.5,136.2C861.6,133.9 867.5,134.5 870,134.5C874.2,134.5 878.4,135.4 882.5,136.2C886.7,137.2 891.1,138.1 895,140C898.7,141.8 901.9,144.8 905,147.5C907.2,149.4 912.1,151 911.2,153.8C910.4,156.6 905.4,155.3 902.5,155.5C898.4,155.7 894,156.2 890,155C884.7,153.5 879.6,150.6 875,147.5C870.4,144.4 864.5,141.4 862.5,136.2Z" fill="#d49480"/>
<path d="M955,175C955.2,172 957.7,169.3 960,167.5C961.7,166.2 964.6,165 966.2,166.2C968.8,168.1 968.8,172.1 970,175C971.3,178.3 973.8,181.5 973.8,185C973.8,188.5 973.1,193.3 970,195C968,196.2 966.6,191.7 965,190C962.9,187.9 960.4,186.2 958.8,183.8C957,181.1 954.8,178.1 955,175Z" fill="#d49480"/>
<path d="M945,258.8C947.4,255.5 952.2,253.8 956.2,253.8C961.1,253.8 966.8,255.1 970,258.8C971.5,260.5 967,262.5 965,263.8C962.3,265.4 959.4,267.5 956.2,267.5C953.5,267.5 950.9,265.4 948.8,263.8C947.1,262.5 943.8,260.4 945,258.8Z" fill="#c05a3e"/>
<path d="M848.8,382.5C848.4,379.1 849.1,375.2 851.2,372.5C854,369 858.3,366.5 862.5,365C868,363.1 874.2,363.1 880,362.5C886.6,361.8 893.4,361.6 900,361.2C906.6,360.9 913.4,359.7 920,360.5C924.4,361 929,362.4 932.5,365C935.2,367 938,370.3 938,373.8C938,376.8 935.1,379.6 932.5,381.2C929.6,383.1 925.9,383.8 922.5,383.8C918.3,383.8 914.2,381.9 910,381.2C905.9,380.6 901.6,379.4 897.5,380C893.1,380.7 888.9,382.8 885,385C881.4,387 878.6,390.5 875,392.5C871.1,394.7 866.9,397.2 862.5,397.5C859.4,397.7 855.9,396.1 853.8,393.8C851,390.8 849.2,386.5 848.8,382.5Z" fill="#d49480"/>
<path d="M882.5,465C877.3,464.1 888.8,456.2 892.5,452.5C896.2,448.8 900.6,445.5 905,442.5C909.7,439.3 914.6,435.8 920,433.8C924.7,432 930,431.2 935,431.2C940.8,431.2 946.8,432.7 952.5,433.8C955.8,434.4 960.6,433.5 962.5,436.2C965.1,440 963.6,445.4 963.8,450C964,454.9 968.6,464.1 963.8,465C937.4,469.9 908.9,469.6 882.5,465Z" fill="#d49480"/>
<path d="M1370.2,227.5C1368.3,219.1 1354.3,235 1346.5,238.8C1340.7,241.6 1334.8,244.6 1329,247.5C1322.4,250.8 1315.2,253.5 1309,257.5C1303.6,261 1297.9,264.9 1294,270C1290.7,274.2 1289.4,279.9 1287.8,285C1286.1,289.8 1286.5,295.5 1284,300C1281.8,304.1 1277.8,307.3 1274,310C1269.5,313.2 1264,315 1259,317.5C1256.9,318.5 1252.4,318.2 1252.8,320.5C1253.2,323.6 1257.1,326 1260.2,326.2C1264.9,326.7 1269.4,323.6 1274,322.5C1278.9,321.3 1284,319.5 1289,319.5C1294,319.5 1299.2,321 1304,322.5C1309.1,324.1 1314.1,326.5 1319,328.8C1324,331.1 1329,333.8 1334,336.2C1338.1,338.3 1342.4,340.4 1346.5,342.5C1349.4,344 1352,347.2 1355.2,347C1360.5,346.7 1369.6,346.5 1370.2,341.2C1374.9,304 1378.7,264.1 1370.2,227.5Z" fill="#d49480"/>
<path d="M780,242.5C782.8,238.6 788.2,237.2 792.5,235C796.5,232.9 800.7,230.8 805,229.5C808.2,228.5 811.7,227.3 815,228C824.4,230 833.8,233.5 842.5,237.5C854.1,242.8 864,252.7 876.2,256.2C879.7,257.3 881.5,249.6 885,250C887.8,250.3 888.8,254.7 888.8,257.5C888.8,260.6 887.2,264 885,266.2C883.2,268.1 880.1,268.5 877.5,268.8C872.6,269.3 867.4,268.6 862.5,268.8C855.9,269 849.1,270 842.5,270C836.7,270 830.7,269.6 825,268.8C820,268 814.9,266.5 810,265C805.8,263.7 801.5,262 797.5,260C794.8,258.7 792.7,256.2 790,255C786.9,253.7 782.1,255.2 780,252.5C777.9,249.9 778.1,245.2 780,242.5Z" fill="#81aebe"/>
<path d="M1046.2,150C1047.3,146.9 1050.1,144.7 1052.5,142.5C1055.5,139.7 1059,137.2 1062.5,135C1065.6,133 1069,131.2 1072.5,130C1075.7,128.9 1079.2,127.3 1082.5,128C1084.7,128.4 1087,130.8 1087,133C1087,136.5 1084.3,139.5 1082.5,142.5C1080.3,146 1077.7,149.4 1075,152.5C1071.9,156 1068.9,159.9 1065,162.5C1061.3,165 1056.9,167.8 1052.5,167.5C1049.6,167.3 1047.2,164 1046.2,161.2C1045,157.8 1045.1,153.5 1046.2,150Z" fill="#81aebe"/>
<path d="M1017.5,352.5C1018.5,347.8 1021.8,343.6 1025,340C1028.5,336.1 1033.4,333.3 1037.5,330C1041.6,326.7 1046.3,323.7 1050,320C1052.9,317.1 1054.4,312.8 1057.5,310C1060,307.7 1063.8,307 1066.5,305C1072.6,300.4 1078.1,294.8 1084,290C1089.7,285.3 1095.4,280.3 1101.5,276.2C1107.8,272 1114.7,268.4 1121.5,265C1128.8,261.4 1136.3,257.6 1144,255C1152,252.2 1160.7,250.6 1169,248.8C1177.2,246.9 1185.7,245 1194,243.8C1202.2,242.5 1210.8,242.2 1219,241.2C1225.6,240.5 1232.4,239.4 1239,238.8C1245.6,238.1 1252.4,237.2 1259,237.5C1262.8,237.7 1267,238 1270.2,240C1272.1,241.2 1273,244 1272.8,246.2C1272.5,248.6 1270.6,250.7 1269,252.5C1266,256.1 1262.3,259.2 1259,262.5C1254.9,266.6 1250.6,270.9 1246.5,275C1241.5,279.9 1236.8,285.5 1231.5,290C1226.1,294.6 1219.6,298.1 1214,302.5C1208,307.2 1202.5,312.8 1196.5,317.5C1192.6,320.6 1188.7,324.4 1184,326.2C1177.7,328.7 1170.6,328.9 1164,330C1155.8,331.4 1147.2,332.4 1139,333.8C1132.4,334.9 1125.4,335.6 1119,337.5C1113,339.3 1107.1,342.2 1101.5,345C1095.6,348 1090,352.2 1084,355C1078.4,357.6 1072.4,359.8 1066.5,361.2C1060.8,362.7 1054.8,363.5 1049,363.8C1044.4,363.9 1039.5,363.5 1035,362.5C1030.3,361.4 1025.4,359.9 1021.2,357.5C1019.5,356.5 1017.1,354.5 1017.5,352.5Z" fill="#81aebe"/>
<path d="M1042.8,341.2C1043.3,337.7 1046.3,334.8 1049,332.5C1053.5,328.6 1059.2,326.1 1064,322.5C1069.2,318.6 1074.1,314.2 1079,310C1084.8,305.1 1090.4,299.5 1096.5,295C1102.8,290.4 1109.6,286.1 1116.5,282.5C1123.7,278.7 1131.4,275.5 1139,272.5C1147.1,269.3 1155.6,266.2 1164,263.8C1172.1,261.4 1180.7,259.5 1189,258C1195.5,256.8 1202.3,255.6 1209,255.5C1214.8,255.4 1221.1,255.4 1226.5,257.5C1229.7,258.7 1233,261.6 1233.5,265C1234,268.6 1231,272 1229,275C1226.2,279.1 1222.6,282.8 1219,286.2C1215.2,289.9 1210.9,293.3 1206.5,296.2C1201.8,299.5 1196.7,302.6 1191.5,305C1185.9,307.6 1179.9,309.7 1174,311.2C1167.5,313 1160.6,314 1154,315C1147.4,316 1140.6,316.4 1134,317.5C1128.2,318.5 1122,319.1 1116.5,321.2C1111.2,323.3 1106.2,326.7 1101.5,330C1096.2,333.7 1091.9,338.9 1086.5,342.5C1081.9,345.6 1076.8,348.2 1071.5,350C1066.7,351.6 1061.5,352.8 1056.5,352.5C1053,352.3 1049.2,351 1046.5,348.8C1044.4,347 1042.3,344 1042.8,341.2Z" fill="#3888ba"/>
<path d="M1152.8,290C1156,287.8 1160.6,288.7 1164.5,288.2C1168.5,287.8 1172.5,286.5 1176.5,287C1177.7,287.1 1179.5,289.4 1178.5,290C1175.3,291.8 1171.1,291.4 1167.5,292C1163.9,292.6 1160.1,294.2 1156.5,293.8C1154.8,293.5 1151.3,291 1152.8,290Z" fill="#1854c0"/>
<path d="M972.5,357.5C974,354.9 977.1,353.2 980,352.5C984,351.5 988.5,351.7 992.5,352.5C996.9,353.4 1000.9,355.7 1005,357.5C1008.4,359 1015,358.8 1015,362.5C1015,366.6 1008.2,367.5 1005,370C1002.5,372 1000.5,375 997.5,376.2C993.6,377.9 989.2,379.2 985,378.8C981.7,378.4 978.5,376.2 976.2,373.8C974.1,371.4 973.2,368.1 972.5,365C971.9,362.6 971.2,359.6 972.5,357.5Z" fill="#81aebe"/>
<path d="M1166.5,393.8C1166.5,390.2 1167.9,386.4 1170.2,383.8C1172.4,381.3 1175.8,379.7 1179,379.5C1182.4,379.3 1186.8,379.9 1189,382.5C1191.4,385.4 1192.1,390.1 1191,393.8C1190.2,396.5 1186.5,397.4 1184,398.8C1181.7,399.9 1179.1,401.4 1176.5,401.2C1174.2,401.1 1172.1,399.4 1170.2,398C1168.8,396.9 1166.5,395.6 1166.5,393.8Z" fill="#81aebe"/>
<path d="M1044,465C1039.5,462.9 1043.5,454.7 1045.2,450C1046.6,446.4 1049.4,443.1 1052.8,441.2C1055.6,439.6 1059.6,438.9 1062.8,440C1066.4,441.2 1069.2,444.5 1071.5,447.5C1073.8,450.4 1075.3,454 1076.5,457.5C1077.3,459.9 1080.2,464.4 1077.8,465C1066.9,467.5 1054.1,469.7 1044,465Z" fill="#81aebe"/>
<path d="M777.5,405C781.6,394.3 797.2,392.6 807.5,387.5C810.5,386 814.7,383 817.5,385C821,387.5 819.7,393.5 821.2,397.5C823,401.8 825,406.1 827.5,410C830.4,414.4 833.4,419.2 837.5,422.5C841.8,426 848.1,426.6 852.5,430C855.8,432.5 858.8,436.1 860,440C861,443.2 859.7,446.8 858.8,450C857.2,455.1 857.8,464 852.5,465C828.2,469.5 796.8,480.5 777.5,465C762,452.6 770.4,423.5 777.5,405Z" fill="#81aebe"/>
<path d="M777.5,412.5C779.7,406.1 790.7,407.8 797.5,407.5C801,407.4 804.8,409 807.5,411.2C810.9,414.2 812.7,418.7 815,422.5C818,427.4 821.4,432.3 823.8,437.5C825.1,440.6 826.6,444.1 826.2,447.5C825.7,453.5 826.9,463 821.2,465C807.7,469.9 786.7,476.1 777.5,465C766.4,451.7 771.8,428.9 777.5,412.5Z" fill="#3888ba"/>
<path d="M782.5,436.2C785,432.4 792.1,436.7 796.2,438.8C799.1,440.2 802,443.1 802.5,446.2C803,449.4 800.9,452.7 798.8,455C796.9,457.1 793.9,457.9 791.2,458.8C788.5,459.6 783.6,462.7 782.5,460C779.7,452.7 778.2,442.8 782.5,436.2Z" fill="#1854c0"/>
</g>
<g clip-path="url(#cfB)" class="cl">
<path d="M897.5,50C900,54.1 902.6,58.3 905,62.5C908.4,68.2 910.9,74.7 915,80C919.3,85.5 924.3,90.9 930,95C936,99.3 943.1,102.3 950,105C958,108.1 966.6,110.4 975,112.5C983.2,114.5 991.9,115.2 1000,117.5C1006.8,119.4 1013.7,121.8 1020,125C1025.3,127.7 1030.3,131.4 1035,135C1039,138 1042.6,141.8 1046.5,145C1050.6,148.4 1054.5,152.3 1059,155C1062.8,157.3 1067.1,159.1 1071.5,160C1075.5,160.8 1080,160.8 1084,160C1092.4,158.3 1100.8,155 1109,152.5C1117.2,150 1125.7,147.3 1134,145C1142.2,142.7 1150.7,140.6 1159,138.8C1167.2,136.9 1175.8,135.5 1184,133.8C1187.7,133 1191.5,132.1 1195.2,131.2"/>
<path d="M1221.5,127.5C1233.9,127.5 1246.6,127.1 1259,127.5C1267.3,127.8 1275.7,129 1284,129.5C1292.2,130 1300.7,130.5 1309,130.5C1317.3,130.5 1325.8,130.4 1334,129.5C1344.8,128.4 1355.8,126.2 1366.5,124.5"/>
<path d="M785,90C790,90.8 795.3,90.8 800,92.5C803.7,93.8 807.5,95.8 810,98.8C811.9,101.1 811.7,104.6 812.5,107.5"/>
<path d="M817.5,107.5C824.1,100.9 828.4,89.8 837.5,87.5C842.6,86.2 844.8,95.5 847.5,100C850.2,104.6 852.3,109.8 853.8,115C854.8,119 854.6,123.4 855,127.5"/>
<path d="M785,162.5C789.1,160.4 793.1,157.7 797.5,156.2C801.9,154.8 806.7,154.6 811.2,153.8"/>
<path d="M918.8,215C920.8,217.9 922.5,221.2 925,223.8C927.9,226.7 931.2,229.7 935,231.2C941.3,233.9 948.3,235.3 955,236.2C963.2,237.4 971.7,237.3 980,237.5C988.2,237.7 996.8,237.7 1005,237.5C1013.3,237.3 1021.7,235.9 1030,236.2C1039.6,236.7 1049.5,238.5 1059,240C1067.3,241.3 1075.7,243.8 1084,245C1092.2,246.2 1100.7,247.3 1109,247.5C1117.3,247.7 1125.8,247.1 1134,246.2C1142.3,245.4 1150.7,243.5 1159,242.5C1167.2,241.5 1175.8,241 1184,240C1192.3,239 1200.8,237.9 1209,236.2C1217.3,234.6 1225.8,232.1 1234,230"/>
<path d="M1259,222.5C1267.2,220 1275.8,217.5 1284,215C1292.2,212.5 1300.8,210 1309,207.5C1317.2,205 1325.8,202.6 1334,200C1344.8,196.6 1355.8,193 1366.5,189.5"/>
<path d="M863.8,251.2C865.8,255 867,259.5 870,262.5C874.2,266.7 879.7,269.8 885,272.5C891.3,275.7 898.2,278.2 905,280C913.1,282.2 921.7,283.7 930,284.5C938.2,285.2 946.8,284.8 955,284.5C963.3,284.2 971.7,282.9 980,282.5C988.2,282.1 996.8,281.7 1005,282C1013.3,282.3 1021.8,283.3 1030,284.5C1039.6,285.9 1049.4,288.6 1059,290C1067.2,291.2 1075.7,292.5 1084,292.5C1092.3,292.5 1100.8,291.4 1109,290C1117.4,288.5 1125.9,286.2 1134,283.8C1142.4,281.2 1150.7,277.7 1159,275C1167.2,272.3 1175.7,269.8 1184,267.5C1192.2,265.2 1200.7,263.1 1209,261.2C1215.2,259.8 1221.6,258.7 1227.8,257.5"/>
<path d="M1252.8,250C1263.1,246.7 1273.7,243.2 1284,240C1292.2,237.4 1300.6,234.6 1309,232.5C1317.2,230.5 1325.6,228.3 1334,227.5C1344.7,226.5 1355.8,227.2 1366.5,227"/>
<path d="M785,253.8C788.3,256.6 791.5,259.9 795,262.5C799.8,266.1 805.8,268.3 810,272.5C815,277.5 818.5,284.2 822.5,290C825.9,294.9 828.8,300.4 832.5,305C835.4,308.6 838.8,312.2 842.5,315C845.5,317.2 848.8,319.6 852.5,320C861.5,321.1 870.9,319.7 880,319.5C888.3,319.3 896.7,318.9 905,318.8C913.2,318.6 921.8,318.5 930,318.8C938.3,319 946.8,318.8 955,320C963.4,321.3 971.7,324.4 980,326.2C988.2,328.1 996.6,330.6 1005,331.2C1013.2,331.9 1021.8,330.9 1030,330C1036.4,329.3 1042.7,327.5 1049,326.2C1055.6,325 1062.4,323.7 1069,322.5"/>
<path d="M1116.5,310C1126.4,308.4 1136.6,306.7 1146.5,305C1155.6,303.4 1164.9,301.3 1174,300C1182.2,298.8 1190.9,299.3 1199,297.5C1205.9,296 1212.3,292.3 1219,290C1225.5,287.8 1232.2,285.1 1239,283.8C1245.5,282.5 1252.4,282.2 1259,282C1267.2,281.8 1275.8,281.8 1284,282.5C1292.3,283.2 1300.8,284.8 1309,286.2C1317.3,287.7 1325.7,289.9 1334,291.2C1344.7,293 1355.8,294.1 1366.5,295.5"/>
<path d="M823.8,373.8C829.1,373.8 834.7,374.8 840,373.8C845.3,372.7 850,369.5 855,367.5C861.6,364.9 868.2,362 875,360C882.3,357.9 890,355.9 897.5,355C904.9,354.1 912.6,354.3 920,354.5C928.3,354.7 936.8,355.7 945,356.2C953.2,356.8 961.7,357.7 970,358C978.2,358.3 986.8,358.5 995,358C1002.5,357.5 1010.2,356.6 1017.5,355C1029.7,352.3 1042.1,348.7 1054,345C1060.7,342.9 1067.3,339.8 1074,337.5C1080.5,335.3 1087.3,332.8 1094,331.2C1100.5,329.7 1107.3,328.5 1114,328C1122.2,327.4 1130.8,327.5 1139,328C1147.3,328.5 1155.8,329.9 1164,331.2C1172.3,332.6 1180.7,335 1189,336.2C1197.2,337.5 1205.7,338.5 1214,338.8C1222.3,339 1230.8,338.4 1239,337.5C1245.7,336.8 1252.4,334.8 1259,333.8C1265.6,332.7 1272.4,331.4 1279,331.2C1287.3,331 1295.8,331.7 1304,332.5C1312.3,333.3 1320.8,334.9 1329,336.2C1335.6,337.4 1342.4,338.9 1349,340C1354.8,341 1360.7,341.7 1366.5,342.5"/>
<path d="M787.5,416.2C793.3,417.1 799.2,419.1 805,418.8C811.8,418.3 818.5,415.6 825,413.8C831.7,411.9 838.4,409.5 845,407.5C853.2,405 861.7,402.3 870,400C878.2,397.7 886.7,395.4 895,393.8C903.2,392.1 911.7,390.8 920,390C929.9,389.1 940.1,389 950,388.8C959.9,388.5 970.1,389 980,388.8C988.3,388.6 996.8,388.3 1005,387.5C1013.3,386.7 1021.8,385.3 1030,383.8C1039.1,382 1048.4,379.6 1057.5,377.5"/>
<path d="M1107.8,376.2C1114.8,377.9 1121.9,379.9 1129,381.2C1137.2,382.8 1145.7,384.2 1154,385C1162.2,385.8 1170.7,386.2 1179,386.2C1187.3,386.2 1195.8,385.5 1204,385C1212.3,384.5 1220.7,383.6 1229,383C1237.2,382.4 1245.7,381.5 1254,381.2C1262.2,381 1270.8,380.8 1279,381.2C1287.3,381.7 1295.8,382.8 1304,383.8C1312.3,384.7 1320.7,386.4 1329,387C1341.4,387.8 1354.1,387.7 1366.5,388"/>
<path d="M785,461.2C791.6,461.2 798.5,462.3 805,461.2C811.8,460.2 818.5,457.2 825,455C831.7,452.7 838.4,450 845,447.5C851.6,445 858.3,442.2 865,440C871.5,437.9 878.3,435.8 885,434.5C891.5,433.2 898.4,432.4 905,432C913.2,431.5 921.8,431.3 930,431.5C938.3,431.7 946.8,432.5 955,433C963.2,433.5 971.7,434.3 980,434.5C988.2,434.7 996.8,434.7 1005,434.5C1015.3,434.2 1025.9,433.5 1036.2,433"/>
<path d="M1086.5,435.5C1093.9,436.8 1101.5,438.6 1109,439.5C1117.2,440.5 1125.7,441 1134,441.2C1142.2,441.5 1150.8,441 1159,440.8C1167.3,440.5 1175.7,440.2 1184,440C1192.2,439.8 1200.8,439.8 1209,439.5C1217.3,439.2 1225.8,438.7 1234,438.2C1239,438 1244,437.3 1249,437.5C1255.6,437.8 1262.4,439.2 1269,440C1277.2,441 1285.7,442.4 1294,443C1302.2,443.6 1310.7,443.8 1319,443.8C1327.3,443.8 1335.7,443.1 1344,443C1351.4,442.9 1359.1,443 1366.5,443"/>
<path d="M795,260C798.3,264.1 802.1,268.1 805,272.5C808.7,278 812,284.1 815,290C817.8,295.6 820,301.7 822.5,307.5C825,313.3 828.2,319 830,325C831.5,329.8 831.7,335.1 832.5,340"/>
</g>
<g clip-path="url(#axB)" class="ld">
<path d="M782.4,251.5L787.9,252.5L791.9,256.5L793,261.5L789.4,264.5L782.4,266Z"/>
<path d="M812.2,109L816.5,108.3L821.4,105L825,106.1L830.6,111.1L837.7,117.4L844.7,123.8L851.8,130.2L858.9,135.8L865.9,141.5L873,146.4L881.5,152.1L888.5,156.3L895.6,159.8L899.8,163.4L905.5,164.1L911.1,162.6L916.8,164.1L919.6,163.4L921.7,166.2L925.2,169.7L932.3,171.1L939.4,171.8L945,170.4L950.7,165.5L956.3,161.2L962,157L966.2,154.5L968.6,157.2L967.2,162.1L964.4,167.1L960.8,172L957.3,176.3L955.9,180.5L958,184.7L961.5,187.6L964.4,186.2L967.2,188.3L964.4,191.8L962.2,194.6L964.4,197.5L969.3,199.6L973.5,198.9L979.2,195.3L986.3,194.6L987,196.8L982,198.9L977.8,201L975,204.5L969.3,205.2L963.7,206.6L958,209.5L950.9,211.6L942.5,213L934,213.7L933.7,213.9L926.7,213.2L919.6,212.8L912.5,214.6L905.5,218.1L898.4,223.8L892.8,229.4L887.1,236.5L882.9,242.1L881.5,247.8L880,253.4L877.2,257L873,253.4L868.7,251.3L861.7,249.2L854.6,246.4L847.6,243.6L840.5,240L833.4,236.5L826.4,233L819.3,229.4L812.2,228L805.2,229.4L798.1,232.3L792.5,235.8L786.8,239.3L779.8,242.9L779.8,202.3L785.4,203.3L791.1,205.4L796.7,204L800.9,199.8L802.4,192.7L800.2,185.6L798.1,180L800.2,178.2L805.2,176.1L809.4,172.5L813.7,165.5L816.2,157L817.2,148.5L816.2,140L814.4,131.6L811.5,124.5L809.1,118.9L810.1,113.2Z"/>
<path d="M826.4,42.6L822.1,51.1L818.6,58.1L817.6,65.2L819.3,72.2L822.8,79.3L826.4,86.4L829.9,90.3L832.7,88.5L835.6,83.5L838.4,77.9L840.5,72.2L842.6,66.6L846.1,60.9L850.4,57.4L856,56.7L859.6,60.2L864.5,61.7L870.2,62.4L874.4,65.2L878.6,68L881.5,72.2L883.6,77.9L885,83.5L886.4,85.7L888.2,83.5L889.2,78.6L892.1,74.4L894.9,70.1L893.5,65.2L891.3,59.5L889.2,53.9L887.8,49.6L882.9,51.1L877.9,50.4L874.4,49.6L872.3,42.6Z"/>
<path d="M969,177L971.4,181.2L974.3,184.7L975.7,181.9L976.4,177.7L980.6,173.4L984.8,170.6L987.7,168.5L990.5,164.3L994.7,160.7L1000.4,157.9L1007.4,157.2L1013.1,155.1L1017.3,153L1018.7,150.1L1014.5,150.1L1008.9,151.6L1004.6,149.4L1000.4,148L996.9,150.1L993.3,155.1L989.1,159.3L984.8,163.6L980.6,167.8L975,172.7L970.7,175.6Z"/>
<path d="M1029.3,149.4L1031.5,152.3L1034.3,152.5L1037.1,148.7L1041.3,145.9L1047,142.4L1052.6,138.1L1058.3,133.9L1062.5,129.7L1066.8,130.4L1072.4,129.7L1078.1,126.1L1083.7,121.2L1089.4,118.4L1096.4,116.2L1103.5,114.1L1110.6,114.8L1114.1,112L1113.4,107.1L1109.1,104.9L1103.5,106.4L1097.8,109.9L1092.2,114.1L1086.5,115.5L1080.9,116.2L1078.1,114.1L1076.7,109.2L1073.1,110.6L1071.7,115.5L1069.6,119.8L1065.4,121.2L1061.1,124.7L1058.3,123.3L1055.5,127.5L1049.8,131.1L1044.2,133.9L1039.9,134.6L1039.2,138.1L1035,141.7L1031.5,145.2Z"/>
<path d="M1018.7,177L1020.2,181.9L1025.8,181.2L1032.9,178.4L1034.3,175.6L1030,173.7L1024.4,174.9Z"/>
<path d="M987.7,192.5L990.5,191.5L992.2,193.2L989.8,194.4Z"/>
<path d="M994.5,193.2L998.3,189.3L1003.2,188.7L1003.9,191.1L1000.4,193.2L996.1,195.3Z"/>
<path d="M1005.3,184L1008.2,183.3L1009.6,185.5L1006.7,186.4Z"/>
<path d="M1136.9,102.5L1140.7,104.2L1145.7,103L1151.9,99.5L1159.4,95L1166.9,89.5L1174.4,84.5L1181.9,79.5L1185.7,76.8L1181.9,75L1175.7,76.2L1170.7,78L1168.2,82L1161.9,85L1155.7,88.8L1149.4,91.2L1144.4,93.8L1140.7,97.5Z"/>
<path d="M1193.4,65L1195.7,64.2L1197.4,66.2L1195.7,68L1193.9,67Z"/>
<path d="M1231.9,50.5L1234.4,53.8L1238.2,53L1243.2,49.5L1248.2,45.5L1251.9,40L1246.9,40L1240.7,46.2L1235.7,48.8Z"/>
<path d="M779.8,259.1L784,259.8L788.2,263.3L792.5,270.4L796.7,277.5L799.5,279.6L802.4,277.5L803.8,276L803.1,281.7L801.7,288.8L802.4,297.2L803.8,305.7L806.6,312.8L812.2,317L816.5,322.7L819.3,328.3L821.4,334L824.3,336.8L826.4,343.9L828.5,351L828.9,358L826.4,365.1L823.5,372.1L819.3,377.8L813.7,382L809.4,389.1L806.6,396.2L805.9,403.2L806.6,408.9L803.8,408.2L800.2,406L798.1,408.9L793.9,413.1L790.4,417.3L788.9,414.5L789.6,408.9L786.8,407.5L779.8,408.9Z"/>
<path d="M789.1,120.5L790.9,117.5L793.9,116.4L796.9,118L798.3,121L796.4,123.8L792.9,124.4L790.2,123Z"/>
<path d="M782.4,108.5L786.4,109.5L787.8,112.5L787.4,116L782.4,117Z"/>
<path d="M785.1,290L787.3,286.3L791.7,284.4L794.5,288.1L792.9,293.1L789.8,298.8L786,298.1Z" fill="#e8d0ca" stroke="#000" stroke-width="1.1"/>
</g>
<g clip-path="url(#axB)" class="se" font-size="27" text-anchor="middle">
<text x="1209" y="126.2" transform="rotate(-5 1209 126.2)" dy="9.8">4</text>
<text x="1246.5" y="225" transform="rotate(-12 1246.5 225)" dy="9.8">6</text>
<text x="1240.2" y="251.2" transform="rotate(-12 1240.2 251.2)" dy="9.8">8</text>
<text x="1093.2" y="314.2" transform="rotate(-14 1093.2 314.2)" dy="9.8">10</text>
<text x="1084" y="374.5" transform="rotate(0 1084 374.5)" dy="9.8">14</text>
<text x="1062.8" y="430.5" transform="rotate(3 1062.8 430.5)" dy="9.8">16</text>
</g>
<rect x="868" y="211.7" width="167.9" height="125.1" fill="none" stroke="#000" stroke-width="2.1"/>
<rect x="784.4" y="44.3" width="587.1" height="419.3" fill="none" stroke="#000" stroke-width="1.9"/>
<g class="se" font-size="27.6">
<path d="M783.5,86.2 h-3" stroke="#000" stroke-width="1"/>
<text x="780.1" y="97.2" text-anchor="end">46°N</text>
<path d="M783.5,170.1 h-3" stroke="#000" stroke-width="1"/>
<text x="780.1" y="181.1" text-anchor="end">44°N</text>
<path d="M783.5,253.9 h-3" stroke="#000" stroke-width="1"/>
<text x="780.1" y="264.9" text-anchor="end">42°N</text>
<path d="M783.5,337.8 h-3" stroke="#000" stroke-width="1"/>
<text x="780.1" y="348.8" text-anchor="end">40°N</text>
<path d="M783.5,421.7 h-3" stroke="#000" stroke-width="1"/>
<text x="780.1" y="432.7" text-anchor="end">38°N</text>
<text x="952.1" y="488.8" text-anchor="middle">145°E</text>
<text x="1161.8" y="488.8" text-anchor="middle">150°E</text>
<text x="1371.5" y="488.8" text-anchor="middle">155°E</text>
</g>
<text class="se" font-size="42.6" text-anchor="middle" x="1108.6" y="35">AMJ</text>
<text class="sa" font-size="35" x="704.6" y="31">B</text>
<clipPath id="cfC"><rect x="81.9" y="587.2" width="579.8" height="414.7"/></clipPath>
<clipPath id="axC"><rect x="80" y="582.8" width="587" height="419.1"/></clipPath>
<g clip-path="url(#cfC)">
<rect x="80" y="582.8" width="587" height="419.1" fill="#d49480"/>
<path d="M466.2,581.8C520.8,576.2 577.9,576.7 632.5,581.8C638.8,582.3 638.4,593.2 642.5,598C645.9,602 650.9,604.7 655,608C658.7,610.9 665,612.2 666.2,616.8C669.1,627.5 671.4,640.6 666.2,650.5C663.7,655.3 654.9,650.3 650,648C645.8,646 643.1,641.5 640,638C637.3,634.9 636.3,629.7 632.5,628C628.7,626.3 624.1,628.9 620,629.2C615.1,629.7 609.8,631.8 605,630.5C601.3,629.5 598.5,626 596.2,623C593.5,619.3 592.7,614.2 590,610.5C587.3,606.7 583.9,603.1 580,600.5C576.3,598 571.9,596.2 567.5,595.5C563.4,594.9 559,595.8 555,596.8C549.9,597.9 544.9,599.8 540,601.8C533.3,604.4 526.5,607.4 520,610.5C513.3,613.6 506.6,617.2 500,620.5C493.4,623.8 486.2,626.5 480,630.5C474.6,634 469.7,638.6 465,643C459.8,647.7 454.9,653 450,658C445.1,663 439.9,668 435,673C430.1,678 425.2,683.3 420,688C415.3,692.4 409.2,695.6 405,700.5C402,704 400.1,708.6 398.8,713C397.6,717 396.5,721.5 397.5,725.5C398.7,730.2 401.4,734.8 405,738C409.1,741.7 414.9,743.3 420,745.5C426.5,748.3 433.7,749.8 440,753C445.3,755.7 450.2,759.4 455,763C460.2,766.9 464.6,771.9 470,775.5C474.6,778.6 480.1,780.5 485,783C489.9,785.5 495.2,787.7 500,790.5C505.1,793.5 510.2,797 515,800.5C519.3,803.6 523.6,807 527.5,810.5C531,813.6 534.6,816.9 537.5,820.5C540,823.5 542.8,826.7 543.8,830.5C544.6,833.7 544,837.5 542.5,840.5C540.9,843.6 538.2,846.6 535,848C531.2,849.7 526.5,850.4 522.5,849.2C517.7,847.8 514.1,843.4 510,840.5C506.7,838.1 503.6,835 500,833C497.7,831.7 495.1,830.2 492.5,830.5C487.3,831.1 482.1,833 477.5,835.5C472.9,838 468.6,841.6 465,845.5C463.1,847.5 461.2,850.2 461.2,853C461.2,856.5 462.6,860.4 465,863C469.1,867.3 474.7,870.3 480,873C486.3,876.2 493.3,878.4 500,880.5C506.5,882.5 513.3,884.2 520,885.5C526.5,886.7 533.5,886.8 540,888C546.7,889.3 553.6,890.6 560,893C566.9,895.6 573.6,899.3 580,903C585.2,906 590.1,909.6 595,913C598.4,915.4 603.6,916.6 605,920.5C605.9,923 602.4,925.7 600,926.8C595.4,928.8 590,928.5 585,929.2C578.4,930.2 571.4,929.9 565,931.8C558.1,933.7 551.5,937.5 545,940.5C540,942.8 535,945.6 530,948C526.3,949.7 519.5,949 518.8,953C518,956.7 524.3,958.5 527.5,960.5C532.2,963.5 537.2,966.2 542.5,968C547.3,969.6 552.5,970.7 557.5,970.5C561.8,970.3 566,968.2 570,966.8C575,964.9 580,962.6 585,960.5C590,958.4 594.8,955.6 600,954.2C605.6,952.7 611.7,951.5 617.5,951.8C623.4,952 629.5,953.3 635,955.5C641.2,957.9 646.1,963.7 652.5,965.5C656.9,966.7 664.7,960 666.2,964.2C670.7,976.7 679.4,1003 666.2,1004.2C524.9,1017.4 377.9,1010.3 236,1004.2C229.3,1004 231.1,991.7 228.5,985.5C226.9,981.7 223.5,978.3 223.5,974.2C223.5,970.9 225.9,967.6 228.5,965.5C232,962.8 237,962.3 241,960.5C246,958.2 251.3,955.8 256,953C259.5,950.9 262.9,948.2 266,945.5C269.5,942.4 272.9,939 276,935.5C278.7,932.4 281.5,929.1 283.5,925.5C285.7,921.6 287.2,917.3 288.5,913C289.7,909 289.8,904.5 291,900.5C292.3,896.2 294.5,892.2 296,888C297.4,883.9 298.5,879.6 299.8,875.5C301,871.4 301.4,866.8 303.5,863C305.2,859.9 308,857.2 311,855.5C314,853.8 317.6,853.3 321,853C325.9,852.5 331.1,853.4 336,853C340.2,852.6 344.5,851.9 348.5,850.5C353.7,848.6 358.8,846 363.5,843C368,840.2 372.7,837.1 376,833C379.5,828.7 381.7,823.3 383.5,818C385.1,813.2 386.2,808 386,803C385.8,798.7 384,794.4 382.2,790.5C379.9,785.3 377.2,779.8 373.5,775.5C369.3,770.6 363.8,766.7 358.5,763C353,759.2 346.9,756 341,753C335.4,750.2 329.1,748.3 323.5,745.5C319.2,743.3 314.3,741.5 311,738C308.6,735.4 307.5,731.5 307.2,728C307,724.6 308.4,721.1 309.8,718C311.3,714.4 313.9,711.3 316,708C318.1,704.7 320.5,701.5 322.2,698C323.8,694.8 323.5,690.4 326,688C333.3,681 342.4,675.7 351,670.5C358.9,665.8 367.4,661.3 376,658C386.8,653.8 398.9,652.1 409.8,648C414.3,646.3 418.1,642.7 422.5,640.5C426.5,638.5 431,637.3 435,635.5C440,633.2 445.1,630.5 450,628C454.9,625.5 460.6,623.9 465,620.5C468.3,618 471,614.3 472.5,610.5C474,606.6 474.6,602.1 473.8,598C472.5,592.2 460.4,582.4 466.2,581.8Z" fill="#e8d0ca"/>
<path d="M121,626.8C129.5,621.7 141.2,626.6 151,625C155.4,624.3 160.3,623.1 163.5,620C166.6,617 166,611.5 168.5,608C170.3,605.6 174.2,605.4 176,603C179.3,598.6 180.6,592.7 183.5,588C185.2,585.3 186.6,581.1 189.8,580.5C200.3,578.5 214.9,572.7 222.2,580.5C227.7,586.3 213.2,594 208.5,600.5C205.4,604.8 201.8,608.9 198.5,613C194.4,618 190.3,623.2 186,628C183.7,630.6 180.4,632.5 178.5,635.5C176.1,639.3 175.9,644.2 173.5,648C171.6,651 168.5,653 166,655.5C163.5,658 160.7,660.3 158.5,663C155.8,666.3 155.2,674.9 151,673.8C142.7,671.4 138.5,661.5 132.2,655.5C128.1,651.5 121.8,648.8 119.8,643.5C117.7,638.3 116.2,629.6 121,626.8Z" fill="#e8d0ca"/>
<path d="M134.8,624.2C131.6,620.8 136,614.5 138.5,610.5C140.8,606.8 144.3,603.1 148.5,601.8C152.4,600.4 157.2,601.2 161,603C163.9,604.4 166.8,607.3 167.2,610.5C167.7,613.6 165.9,617.2 163.5,619.2C160.1,622.1 155.4,623.5 151,624.2C145.7,625.2 138.4,628.2 134.8,624.2Z" fill="#d49480"/>
<path d="M332.2,610.5C332.2,607.9 334.9,605.4 337.2,604.2C340.6,602.7 344.8,602.3 348.5,603C351.8,603.6 355.5,605.2 357.2,608C358.8,610.4 358.9,614.4 357.2,616.8C355.4,619.3 351.6,620.3 348.5,620.5C344.7,620.7 340.5,620 337.2,618C334.7,616.4 332.2,613.5 332.2,610.5Z" fill="#e8d0ca"/>
<path d="M76,968C77.9,963.4 86.1,967.3 91,967.5C95.2,967.7 99.6,967.9 103.5,969.2C107.2,970.6 111.1,972.4 113.5,975.5C115.6,978.2 116.4,982.1 116,985.5C115.5,989.2 112.7,992.2 111,995.5C109.4,998.4 109.2,1003.4 106,1004.2C96.4,1006.7 82.3,1011.9 76,1004.2C68.4,995 71.5,979.1 76,968Z" fill="#e8d0ca"/>
<path d="M76,604.2C77.1,602.5 80.8,604 82.2,605.5C83.7,607 84,609.7 83.5,611.8C83.1,613.8 81.6,615.8 79.8,616.8C78.6,617.3 76.4,616.7 76,615.5C74.9,611.9 74,607.4 76,604.2Z" fill="#e8d0ca"/>
<path d="M337.5,723C337,718.7 338.5,713.8 341.2,710.5C344.3,706.8 349.1,704.3 353.8,703C358.1,701.8 363.8,700.4 367.5,703C371,705.5 371.2,711.2 371.2,715.5C371.2,719.8 370,724.5 367.5,728C364.8,731.8 360.8,735.6 356.2,736.8C352.2,737.8 347.1,736.7 343.8,734.2C340.3,731.7 337.9,727.2 337.5,723Z" fill="#cfd7da"/>
<path d="M380,848C379.4,842.9 381.6,837.6 383.8,833C386.6,826.8 390.7,820.8 395,815.5C399.4,810.1 404.6,805 410,800.5C414.6,796.7 419.5,792.8 425,790.5C429.6,788.6 435.1,787.1 440,788C444.7,788.9 449.6,791.7 452.5,795.5C455,798.9 455.8,803.9 455,808C454,813.4 450.8,818.5 447.5,823C444.1,827.7 439.3,831.6 435,835.5C430.2,839.8 425.3,844.3 420,848C415.3,851.3 410.6,855.4 405,856.8C399,858.2 392.1,858 386.2,856C383.1,854.9 380.4,851.3 380,848Z" fill="#cfd7da"/>
<path d="M342.5,1004.2C336.3,1001.7 346.8,991.4 350,985.5C352.7,980.6 355.9,975.6 360,971.8C363.5,968.4 367.8,965.3 372.5,964.2C377.3,963.1 382.9,963.5 387.5,965.5C392.1,967.5 396.2,971.3 398.8,975.5C400.9,979.1 401.8,983.8 401.2,988C400.5,993.7 400.5,1002.7 395,1004.2C378.3,1008.9 358.5,1010.9 342.5,1004.2Z" fill="#cfd7da"/>
<path d="M387.5,911.8C388.4,906.9 393.5,903.5 397.5,900.5C401.1,897.8 405.5,895.2 410,895C414,894.8 418.4,896.5 421.2,899.2C424.2,902.1 425.8,906.5 426.2,910.5C426.7,915.1 425.3,919.9 423.8,924.2C422.8,926.9 421.5,930.6 418.8,931C414,931.6 409.4,928.6 405,926.8C401.1,925.1 397,923.3 393.8,920.5C391.1,918.2 386.8,915.2 387.5,911.8Z" fill="#d49480"/>
<path d="M492.5,1004.2C487.6,1003.3 500.3,997.5 505,996C510.5,994.3 516.7,994.5 522.5,995C528.4,995.5 534.4,997.2 540,999.2C542.8,1000.3 550.5,1003.9 547.5,1004.2C529.4,1006.2 510.3,1007.7 492.5,1004.2Z" fill="#d49480"/>
<path d="M177.2,684.2C176.7,681.2 182.9,681 186,680.5C192.5,679.4 199.4,679.3 206,679.2C214.3,679.2 222.7,680.2 231,680C239.3,679.8 247.8,679.3 256,678C261.9,677 268.1,675.7 273.5,673C277.4,671 280.3,667.2 283.5,664.2C286.1,661.9 287.9,658.3 291,656.8C294,655.3 297.7,655.1 301,655.5C304.5,655.9 309.6,656 311,659.2C312.5,662.9 309.2,667.1 307.2,670.5C305,674.3 301.5,677.3 298.5,680.5C295.3,683.9 291.6,687 288.5,690.5C285,694.4 281,698.4 278.5,703C276,707.6 274,712.8 273.5,718C273.2,721.4 276.9,724.7 276,728C275,731.4 272,735.5 268.5,735.5C262.2,735.5 256.6,730.9 251,728C242.5,723.5 234.5,717.4 226,713C213.9,706.7 200.3,702.4 188.5,695.5C184,692.8 178.1,689.4 177.2,684.2Z" fill="#c05a3e"/>
<path d="M191,770.5C189.8,775.3 192.9,780.5 193,785.5C193.1,790.5 193.1,795.8 191.5,800.5C190.3,803.9 187.6,806.9 184.8,809.2C181.9,811.6 178.4,813.8 174.8,814.2C171,814.7 167,813.2 163.5,811.8C159.1,809.9 155.3,806.4 151,804.2C147,802.3 142.9,799 138.5,799.2C134.6,799.5 130.1,802 128.5,805.5C126.7,809.3 128.9,813.9 129.8,818C130.6,822.2 132.1,826.4 133.5,830.5C135,834.7 135.8,839.4 138.5,843C141,846.3 144.6,849.1 148.5,850.5C153.2,852.1 158.5,851.5 163.5,851.8C166.4,851.9 169.5,851 172.2,851.8C175.4,852.7 178.6,854.4 181,856.8C183.4,859.1 185.5,862.2 186,865.5C186.4,868.5 185,871.7 183.5,874.2C182.4,876 180,876.6 178.5,878C175.1,881.2 172.2,885.1 168.5,888C164.7,891 160.1,893 156,895.5C151.9,898 147.2,899.9 143.5,903C140.1,905.8 136.9,909.2 134.8,913C132.7,916.8 131.4,921.2 131,925.5C130.6,929.6 130.9,934.1 132.2,938C133.5,941.7 135.7,945.2 138.5,948C141.3,950.8 144.7,953.3 148.5,954.2C153.3,955.5 158.6,955.2 163.5,954.2C169.5,953.1 175.3,950.2 181,948C186.8,945.7 192.5,942.4 198.5,940.5C204.1,938.7 210.1,937.4 216,936.8C221.7,936.1 227.8,937.4 233.5,936.8C238.6,936.2 243.8,934.9 248.5,933C253,931.2 257.6,928.9 261,925.5C264.4,922.1 266.5,917.4 268.5,913C270.7,908.2 272.4,903.1 273.5,898C274.5,893.1 274.3,888 274.8,883C275.2,878 275.6,873 276,868C276.4,863 275.6,857.7 277.2,853C279,848.3 282.7,844.3 286,840.5C288.9,837.2 292.2,833.9 296,831.8C300.6,829.2 306.1,828.4 311,826.8C315.9,825.1 321,823.2 326,821.8C330.9,820.3 336.2,819.7 341,818C344.5,816.8 348.1,815.2 351,813C353.6,811 356.6,808.7 357.2,805.5C358,802.2 356,798.7 354.8,795.5C353.1,791.2 351,786.9 348.5,783C345.6,778.6 342.2,774.2 338.5,770.5C334.8,766.8 330.7,763 326,760.5C319.8,757.2 312.8,754.8 306,753C300.4,751.5 294.3,750.9 288.5,750.5C282.7,750.1 276.8,750.9 271,750.5C266,750.1 260.9,748.8 256,748C246.1,746.4 236,742.1 226,743C217.2,743.8 208,747.5 201,753C195.8,757.1 192.6,764 191,770.5Z" fill="#c05a3e"/>
<path d="M186,770C188.1,771.1 189.2,773.7 190,776C191.1,779.2 191.5,782.7 191.5,786C191.5,789.7 191,793.5 190,797C189.1,800.1 187.5,803.1 185.7,805.7C184.2,807.9 182.2,809.9 180,811.4C178.1,812.7 175.9,813.9 173.6,814.3C171.7,814.6 169.7,814.2 167.9,813.6C166.6,813.2 164.5,812.8 164.3,811.4C163.8,807.6 164.3,803.4 166,800C167.1,797.9 170.2,797.6 172,796C173.9,794.3 176.1,792.4 177,790C178.2,786.9 177.1,783.2 178,780C178.8,777.2 180.2,774.3 182,772C182.9,770.8 184.7,769.3 186,770Z" fill="#e0aa98"/>
<path d="M148,784C150.5,781.3 155,786.8 158,789C160.4,790.8 163.1,793.1 164,796C165.5,800.7 167.6,806.7 165,811C163.5,813.4 160.4,807.5 158,806C154.8,803.9 149.6,803.5 148,800C145.8,795.2 144.4,787.9 148,784Z" fill="#e0aa98"/>
<path d="M445,700.5C445,694.6 451.4,690.2 455,685.5C459.6,679.5 464.6,673.4 470,668C475.4,662.6 481.5,657.7 487.5,653C493.1,648.6 499.2,644.5 505,640.5C509.9,637.1 514.8,633.3 520,630.5C524.7,627.9 529.8,625.6 535,624.2C539.8,623 545,622.3 550,622.5C553.4,622.7 557.4,623.2 560,625.5C563.6,628.7 564.7,634.1 567.5,638C570.5,642.3 573.8,646.8 577.5,650.5C582.1,655.1 587.4,659.1 592.5,663C598.1,667.3 603.7,672.2 610,675.5C616.2,678.8 623.4,680.5 630,683C636.6,685.5 643.5,687.9 650,690.5C655.4,692.7 665.6,691.7 666.2,697.5C671.3,742.6 674.3,790.3 666.2,835C664.8,842.9 650.5,830.1 642.5,829.2C635.9,828.6 629,829.4 622.5,830.5C616.6,831.5 610.9,834.4 605,835.5C600.1,836.4 594.8,837.8 590,836.8C586.9,836.1 584.7,832.9 582.5,830.5C579.7,827.5 577.4,823.8 575,820.5C572.1,816.4 568.3,812.6 566.2,808C564.5,804.2 563.1,799.6 563.8,795.5C564.4,791.7 567.2,788.2 570,785.5C574.3,781.4 580,778.8 585,775.5C590,772.2 595.6,769.5 600,765.5C603.1,762.8 606.9,759.6 607.5,755.5C607.9,752.6 604.6,750.1 602.5,748C598.8,744.3 594.4,741 590,738C586.1,735.3 582.1,732.2 577.5,731C572.7,729.7 567.4,730 562.5,730.5C556.6,731.1 550.6,732.5 545,734.2C539.9,735.8 534.8,738.1 530,740.5C525.7,742.7 522.1,746.6 517.5,748C513.5,749.2 508.9,749.3 505,748C501.1,746.7 497.9,743.4 495,740.5C491.3,736.8 488.9,731.5 485,728C480.6,724 475.1,721 470,718C465.2,715.2 459.5,713.7 455,710.5C451.2,707.8 445,705.2 445,700.5Z" fill="#c05a3e"/>
<path d="M76,803C79.5,799.5 86.1,799.5 91,800.5C95,801.3 99.2,804.3 101,808C102.2,810.3 100.5,813.9 98.5,815.5C95.8,817.6 91.9,818 88.5,818C84.3,818 78.7,818.7 76,815.5C73.4,812.3 73.1,805.9 76,803Z" fill="#c05a3e"/>
<path d="M76,825.5C78.6,822.9 83.8,822.9 87.2,824.2C89.2,825 89.2,828.5 88.5,830.5C87.8,832.7 85.7,834.6 83.5,835.5C81.2,836.4 77.5,837.5 76,835.5C74,832.9 73.7,827.8 76,825.5Z" fill="#c05a3e"/>
<path d="M211,756.8C212.9,753.8 217.5,753.6 221,753C227.5,751.9 234.4,751.8 241,751.8C247.6,751.8 254.5,752 261,753C267.7,754.1 274.4,756.2 281,758C286.8,759.5 292.9,760.8 298.5,763C303.7,765 309,767.2 313.5,770.5C317,773.1 321.1,776.3 322.2,780.5C323.4,784.6 321.3,789.1 319.8,793C318.3,796.6 316.3,800.3 313.5,803C310,806.3 305.2,808.2 301,810.5C296.1,813.2 290.9,815.3 286,818C281.8,820.3 277.1,822.3 273.5,825.5C270.4,828.2 268.8,832.5 266,835.5C263,838.7 260,842.4 256,844.2C251.4,846.4 246.1,847.7 241,847.5C235,847.3 228.9,845.4 223.5,843C218.1,840.6 212.9,837 208.5,833C205.4,830.3 202.3,826.9 201,823C199.7,819.1 200.4,814.6 201,810.5C201.6,806.2 203.5,802.1 204.8,798C206,793.9 207.7,789.7 208.5,785.5C209.4,780.6 209.3,775.4 209.8,770.5C210.1,766 208.5,760.6 211,756.8Z" fill="#9e1a28"/>
<path d="M163.5,920.5C162.8,917.8 165.3,915 167.2,913C170.4,909.8 174.6,907.7 178.5,905.5C183.3,902.8 188.6,900.5 193.5,898C198.4,895.5 203.4,892.6 208.5,890.5C213.3,888.5 218.4,886.5 223.5,885.5C226.7,884.9 230.5,884.1 233.5,885.5C236.4,886.9 238.9,889.9 239.8,893C240.7,896.2 239.8,900 238.5,903C236.8,906.8 234.2,910.4 231,913C227.4,915.9 222.8,917.6 218.5,919.2C212.9,921.4 206.8,922.8 201,924.2C195.3,925.7 189.4,927.3 183.5,928C179.4,928.5 174.9,929.4 171,928C167.7,926.8 164.3,923.9 163.5,920.5Z" fill="#9e1a28"/>
<path d="M505,668C504.5,664.3 507.3,660.5 510,658C513.4,654.9 518.1,653 522.5,651.8C527.3,650.4 532.6,649.7 537.5,650.5C542.8,651.4 547.8,654.2 552.5,656.8C557.7,659.6 562.9,663 567.5,666.8C571.6,670.1 576.1,673.5 578.8,678C580.4,680.9 581,684.8 580,688C578.8,691.9 575.6,695.3 572.5,698C568.9,701.2 564.6,704 560,705.5C555.3,707 549.9,707.6 545,706.8C540.5,705.9 536.2,703.2 532.5,700.5C528.7,697.8 525.6,694 522.5,690.5C519,686.6 515.7,682.2 512.5,678C510,674.7 505.5,672.1 505,668Z" fill="#9e1a28"/>
<path d="M211,700.5C219.2,699.5 227.8,700.8 236,702C237.2,702.2 239.7,704.4 238.5,704.5C231.1,705.4 223.3,705.6 216,704.5C213.9,704.2 208.9,700.8 211,700.5Z" fill="#9e1a28"/>
<path d="M249.8,775.5C248.3,773.9 251.3,770.3 253.5,770C258.5,769.2 263.6,771.6 268.5,772.5C273.5,773.4 279.9,771.9 283.5,775.5C285.5,777.5 278.8,779.2 276,780C272,781.1 267.6,781.7 263.5,781C258.7,780.2 253,779.1 249.8,775.5Z" fill="#600e22"/>
</g>
<g clip-path="url(#cfC)" class="cl">
<path d="M192.2,588C196.8,593 201.6,598 206,603C211,608.7 216.5,614.4 221,620.5C225.6,626.8 229.2,634 233.5,640.5C237.4,646.4 240.9,653.1 246,658C250.1,662 255.6,664.9 261,666.8C267.3,668.9 274.4,668.8 281,670C286,670.9 291.3,671.2 296,673C299.6,674.4 303.4,676.4 306,679.2C308.1,681.6 309.6,684.9 309.8,688C310,692.2 308.6,696.5 307.2,700.5C305.7,704.9 303.1,708.9 301,713C299.4,716.3 296.5,719.3 296,723C295.6,726.4 296,730.7 298.5,733C301.7,735.9 306.7,736.2 311,736.8C317.5,737.7 324.4,737.5 331,737.5C338,737.5 345.2,737.2 352.2,737"/>
<path d="M366.2,588C369.1,593 371.7,598.3 375,603C378.7,608.3 383.8,612.7 387.5,618C390.2,621.9 393.4,625.9 394.5,630.5C395.5,634.5 395.3,639.2 393.8,643C391.6,648.5 387.4,653.3 383.8,658C380,662.8 375.1,667 371.2,671.8C368.5,675.2 365.1,678.7 363.8,683C362.9,685.8 363.2,689.4 365,691.8C367.3,694.8 371.3,696.7 375,697.5C380.7,698.7 386.8,698.1 392.5,697.5C400.4,696.7 408.4,694.8 416.2,693.5"/>
<path d="M465,687.2C473.2,687.2 481.8,686.7 490,687.2C498.3,687.8 506.7,689.5 515,690.5C523.2,691.4 531.7,692.8 540,693C548.3,693.2 556.8,693 565,691.8C573.4,690.5 581.8,687.8 590,685.5C598.3,683.2 606.8,680.5 615,678C623.2,675.5 631.8,673.2 640,670.5C647.5,668.1 655.1,665.1 662.5,662.5"/>
<path d="M465,588C464.6,593 464.6,598.1 463.8,603C462.9,608 461.7,613.2 460,618C458.4,622.7 454.9,626.9 453.8,631.8C453.2,634.2 453.5,637.2 455,639.2C457.5,642.5 461.1,645.3 465,646.8C469.7,648.5 475,648.5 480,648.5C485,648.5 490.1,647.4 495,646.8C500.8,646 506.7,645.1 512.5,644.2"/>
<path d="M557.5,627.5C564.9,624.8 572.5,621.7 580,619.2C588.2,616.5 596.7,614 605,611.8C613.2,609.5 621.8,607.6 630,605.5C636.6,603.9 643.5,602.5 650,600.5C654.2,599.2 658.4,597.1 662.5,595.5"/>
<path d="M402.5,736.2C409.9,736 417.6,735.4 425,735.5C432.4,735.6 440.1,735.9 447.5,736.8C455,737.6 462.6,739.3 470,740.5C477.4,741.7 485,743.6 492.5,744.2C499.9,744.9 507.6,744.8 515,744.2C523.3,743.6 531.8,742.1 540,740.5C548.3,738.8 556.8,736.5 565,734.2C573.3,732 581.8,729.2 590,726.8C598.2,724.3 606.8,721.7 615,719.2C623.2,716.8 631.8,714.2 640,711.8C647.4,709.5 655.1,707.2 662.5,705"/>
<path d="M201,755.5C205.9,758.8 210.8,762.7 216,765.5C222.4,768.9 229.1,772.1 236,774.2C244,776.7 252.7,778.1 261,779.2C270,780.5 279.4,781.3 288.5,781.8C297.6,782.2 306.9,781.6 316,781.8C325.9,781.9 336.1,782.1 346,782.5C355.1,782.9 364.4,783.7 373.5,784.2"/>
<path d="M423.8,786.8C432.4,787 441.3,787.7 450,787.5C458.3,787.3 466.8,786.4 475,785.5C483.3,784.5 491.8,783.4 500,781.8C508.3,780.1 516.8,777.6 525,775.5C533.2,773.4 541.8,771.5 550,769.2C558.3,767 566.7,764 575,761.8C583.2,759.5 591.7,757.4 600,755.5C608.2,753.6 616.7,751.6 625,750C633.2,748.4 641.7,747.1 650,746C654.1,745.5 658.4,745.3 662.5,745"/>
<path d="M159.8,790.5C161.8,794.6 163.4,799.2 166,803C168.8,807.1 172.1,811.1 176,814.2C180.5,817.8 185.6,821.1 191,823C197.3,825.3 204.3,826 211,826.8C219.2,827.7 227.8,827.6 236,828C244.2,828.4 252.8,828.4 261,829.2C269.3,830.1 277.8,831.6 286,833C294.3,834.5 302.7,836.5 311,838C319.2,839.4 327.7,841.3 336,841.8C342.6,842.1 349.4,841.3 356,840.5C362.3,839.7 368.6,838 374.8,836.8"/>
<path d="M422.5,828C430.8,826.4 439.3,824.8 447.5,823C455.8,821.1 464.2,818.8 472.5,816.8C480.8,814.7 489.2,812.4 497.5,810.5C505.7,808.6 514.2,806.5 522.5,805C530.7,803.6 539.2,802.5 547.5,801.8C555.7,801 564.2,800.3 572.5,800.5C580.8,800.7 589.3,801.7 597.5,803C605.8,804.3 614.3,806.6 622.5,808.5C630.8,810.4 639.3,812.3 647.5,814.2C652.5,815.4 657.5,816.8 662.5,818"/>
<path d="M126,895C130.9,893.9 136.2,893.2 141,891.8C147.7,889.7 154.3,886.5 161,884.2C167.5,882 174.2,879 181,878C189.2,876.9 197.8,877.5 206,878C214.3,878.5 222.8,879.8 231,881C239.3,882.2 247.7,884.5 256,885.5C264.2,886.4 272.7,887 281,886.8C289.3,886.5 297.8,885.3 306,884.2C314.3,883.2 322.8,882 331,880.5C338.9,879.1 346.9,877.1 354.8,875.5"/>
<path d="M401.2,862.2C409.1,861 417.1,859.3 425,858.5C433.2,857.7 441.7,857.6 450,857.5C458.3,857.4 466.8,857.5 475,858C483.3,858.5 491.8,859.7 500,860.5C508.2,861.3 516.7,862.6 525,863C533.2,863.4 541.8,863.1 550,863C558.3,862.9 566.8,862.3 575,862.5C583.3,862.7 591.8,863.1 600,864.2C608.3,865.4 616.8,867.3 625,869.2C632.5,871 640.1,873.5 647.5,875.5C652.4,876.8 657.5,878 662.5,879.2"/>
<path d="M93.5,953C95.2,956.3 96.1,960.2 98.5,963C100.4,965.3 103,967.8 106,968C111.1,968.3 116.3,966.3 121,964.2C128,961.3 134.3,956.6 141,953C147.5,949.5 154.2,946 161,943C167.5,940.2 174.2,937.4 181,935.5C187.5,933.7 194.3,932.6 201,931.8C209.2,930.7 217.7,930.3 226,930C234.2,929.7 242.8,930 251,930C259.2,930 267.8,930.7 276,930C284.3,929.2 292.8,927.3 301,925.5C309.3,923.7 317.7,921.2 326,919.2C332.6,917.7 339.3,916.1 346,915C351.7,914 357.7,913.7 363.5,913"/>
<path d="M413.8,913.5C420.8,914.2 428,914.5 435,915.5C441.7,916.4 448.4,918.1 455,919.2C461.6,920.4 468.3,921.9 475,922.5C483.2,923.3 491.7,923.5 500,923.5C508.3,923.5 516.7,922.6 525,922.5C531.6,922.4 538.5,922.1 545,923C551.7,923.9 558.4,926.3 565,928C571.6,929.7 578.3,932.2 585,933.5C591.5,934.8 598.4,935.4 605,936C613.2,936.7 621.7,937.2 630,937.5C640.7,937.9 651.8,937.8 662.5,938"/>
<path d="M301,1001.8C309.2,999.7 317.8,997.6 326,995.5C334.2,993.4 342.8,991.4 351,989.2C355.2,988.1 359.4,986.7 363.5,985.5"/>
<path d="M413.8,985C422.4,986 431.3,987.2 440,988C448.2,988.8 456.7,989.5 465,990C473.2,990.5 481.8,990.5 490,991C498.3,991.5 506.8,992.3 515,993C523.3,993.7 531.8,994.5 540,995.5C547.4,996.4 555.1,997.4 562.5,998.5C567.1,999.2 571.7,1000.2 576.2,1001"/>
<path d="M131,628C134.3,633 137.6,638.1 141,643C145,648.8 149.5,654.7 153.5,660.5C156.9,665.4 159.8,670.8 163.5,675.5C165.6,678.3 168.5,680.5 171,683"/>
<path d="M81,638C86,639.2 91,640.5 96,641.8C99.3,642.6 102.7,643.4 106,644.2"/>
<path d="M81,723 L93.5,720.5"/>
</g>
<g clip-path="url(#axC)" class="ld">
<path d="M78,790L83.5,791L87.5,795L88.6,800L85,803L78,804.5Z"/>
<path d="M107.8,647.5L112.1,646.8L117,643.5L120.6,644.6L126.2,649.6L133.3,655.9L140.3,662.3L147.4,668.7L154.5,674.3L161.5,680L168.6,684.9L177.1,690.6L184.1,694.8L191.2,698.3L195.4,701.9L201.1,702.6L206.7,701.1L212.4,702.6L215.2,701.9L217.3,704.7L220.8,708.2L227.9,709.6L235,710.3L240.6,708.9L246.3,704L251.9,699.7L257.6,695.5L261.8,693L264.2,695.7L262.8,700.6L260,705.6L256.4,710.5L252.9,714.8L251.5,719L253.6,723.2L257.1,726.1L260,724.7L262.8,726.8L260,730.3L257.8,733.1L260,736L264.9,738.1L269.1,737.4L274.8,733.8L281.9,733.1L282.6,735.3L277.6,737.4L273.4,739.5L270.6,743L264.9,743.7L259.3,745.1L253.6,748L246.5,750.1L238.1,751.5L229.6,752.2L229.3,752.4L222.3,751.7L215.2,751.3L208.1,753.1L201.1,756.6L194,762.3L188.4,767.9L182.7,775L178.5,780.6L177.1,786.3L175.6,791.9L172.8,795.5L168.6,791.9L164.3,789.8L157.3,787.7L150.2,784.9L143.2,782.1L136.1,778.5L129,775L122,771.5L114.9,767.9L107.8,766.5L100.8,767.9L93.7,770.8L88.1,774.3L82.4,777.8L75.4,781.4L75.4,740.8L81,741.8L86.7,743.9L92.3,742.5L96.5,738.3L98,731.2L95.8,724.1L93.7,718.5L95.8,716.7L100.8,714.6L105,711L109.3,704L111.8,695.5L112.8,687L111.8,678.5L110,670.1L107.1,663L104.7,657.4L105.7,651.7Z"/>
<path d="M122,581.1L117.7,589.6L114.2,596.6L113.2,603.7L114.9,610.7L118.4,617.8L122,624.9L125.5,628.8L128.3,627L131.2,622L134,616.4L136.1,610.7L138.2,605.1L141.7,599.4L146,595.9L151.6,595.2L155.2,598.7L160.1,600.2L165.8,600.9L170,603.7L174.2,606.5L177.1,610.7L179.2,616.4L180.6,622L182,624.2L183.8,622L184.8,617.1L187.7,612.9L190.5,608.6L189.1,603.7L186.9,598L184.8,592.4L183.4,588.1L178.5,589.6L173.5,588.9L170,588.1L167.9,581.1Z"/>
<path d="M264.6,715.5L267,719.7L269.9,723.2L271.3,720.4L272,716.2L276.2,711.9L280.4,709.1L283.3,707L286.1,702.8L290.3,699.2L296,696.4L303,695.7L308.7,693.6L312.9,691.5L314.3,688.6L310.1,688.6L304.5,690.1L300.2,687.9L296,686.5L292.5,688.6L288.9,693.6L284.7,697.8L280.4,702.1L276.2,706.3L270.6,711.2L266.3,714.1Z"/>
<path d="M324.9,687.9L327.1,690.8L329.9,691L332.7,687.2L336.9,684.4L342.6,680.9L348.2,676.6L353.9,672.4L358.1,668.2L362.4,668.9L368,668.2L373.7,664.6L379.3,659.7L385,656.9L392,654.7L399.1,652.6L406.2,653.3L409.7,650.5L409,645.6L404.7,643.4L399.1,644.9L393.4,648.4L387.8,652.6L382.1,654L376.5,654.7L373.7,652.6L372.3,647.7L368.7,649.1L367.3,654L365.2,658.3L361,659.7L356.7,663.2L353.9,661.8L351.1,666L345.4,669.6L339.8,672.4L335.5,673.1L334.8,676.6L330.6,680.2L327.1,683.7Z"/>
<path d="M314.3,715.5L315.8,720.4L321.4,719.7L328.5,716.9L329.9,714.1L325.6,712.2L320,713.4Z"/>
<path d="M283.3,731L286.1,730L287.8,731.7L285.4,732.9Z"/>
<path d="M290.1,731.7L293.9,727.8L298.8,727.2L299.5,729.6L296,731.7L291.7,733.8Z"/>
<path d="M300.9,722.5L303.8,721.8L305.2,724L302.3,724.9Z"/>
<path d="M432.5,641L436.2,642.8L441.2,641.5L447.5,638L455,633.5L462.5,628L470,623L477.5,618L481.2,615.2L477.5,613.5L471.2,614.8L466.2,616.5L463.8,620.5L457.5,623.5L451.2,627.2L445,629.8L440,632.2L436.2,636Z"/>
<path d="M489,603.5L491.2,602.8L493,604.8L491.2,606.5L489.5,605.5Z"/>
<path d="M527.5,589L530,592.2L533.8,591.5L538.8,588L543.8,584L547.5,578.5L542.5,578.5L536.2,584.8L531.2,587.2Z"/>
<path d="M75.4,797.6L79.6,798.3L83.8,801.8L88.1,808.9L92.3,816L95.1,818.1L98,816L99.4,814.5L98.7,820.2L97.3,827.3L98,835.7L99.4,844.2L102.2,851.3L107.8,855.5L112.1,861.2L114.9,866.8L117,872.5L119.9,875.3L122,882.4L124.1,889.5L124.5,896.5L122,903.6L119.1,910.6L114.9,916.3L109.3,920.5L105,927.6L102.2,934.7L101.5,941.7L102.2,947.4L99.4,946.7L95.8,944.5L93.7,947.4L89.5,951.6L86,955.8L84.5,953L85.2,947.4L82.4,946L75.4,947.4Z"/>
<path d="M84.7,659L86.5,656L89.5,654.9L92.5,656.5L93.9,659.5L92,662.3L88.5,662.9L85.8,661.5Z"/>
<path d="M78,647L82,648L83.4,651L83,654.5L78,655.5Z"/>
<path d="M80.7,828.5L82.9,824.8L87.3,822.9L90.1,826.6L88.5,831.6L85.4,837.3L81.6,836.6Z" fill="#c05a3e" stroke="#000" stroke-width="1.1"/>
</g>
<g clip-path="url(#axC)" class="se" font-size="27" text-anchor="middle">
<text x="535" y="636" transform="rotate(-20 535 636)" dy="9.8">10</text>
<text x="441.2" y="687.2" transform="rotate(-3 441.2 687.2)" dy="9.8">12</text>
<text x="378.8" y="735" transform="rotate(0 378.8 735)" dy="9.8">14</text>
<text x="400" y="784.2" transform="rotate(2 400 784.2)" dy="9.8">16</text>
<text x="398.8" y="829.2" transform="rotate(-10 398.8 829.2)" dy="9.8">18</text>
<text x="376.2" y="866.8" transform="rotate(-20 376.2 866.8)" dy="9.8">20</text>
<text x="388" y="911.8" transform="rotate(0 388 911.8)" dy="9.8">22</text>
<text x="388" y="983" transform="rotate(2 388 983)" dy="9.8">24</text>
<text x="141.5" y="654.2" transform="rotate(52 141.5 654.2)" dy="9.8">12</text>
<text x="155.5" y="674.2" transform="rotate(48 155.5 674.2)" dy="9.8">14</text>
</g>
<rect x="163.6" y="750.2" width="167.9" height="125.1" fill="none" stroke="#000" stroke-width="2.1"/>
<rect x="80" y="582.8" width="587" height="419.1" fill="none" stroke="#000" stroke-width="1.9"/>
<g class="se" font-size="27.6">
<path d="M79.1,624.7 h-3" stroke="#000" stroke-width="1"/>
<text x="75.7" y="635.7" text-anchor="end">46°N</text>
<path d="M79.1,708.5 h-3" stroke="#000" stroke-width="1"/>
<text x="75.7" y="719.5" text-anchor="end">44°N</text>
<path d="M79.1,792.3 h-3" stroke="#000" stroke-width="1"/>
<text x="75.7" y="803.3" text-anchor="end">42°N</text>
<path d="M79.1,876.2 h-3" stroke="#000" stroke-width="1"/>
<text x="75.7" y="887.2" text-anchor="end">40°N</text>
<path d="M79.1,960 h-3" stroke="#000" stroke-width="1"/>
<text x="75.7" y="971" text-anchor="end">38°N</text>
<text x="247.7" y="1027.1" text-anchor="middle">145°E</text>
<text x="457.4" y="1027.1" text-anchor="middle">150°E</text>
<text x="667" y="1027.1" text-anchor="middle">155°E</text>
</g>
<text class="se" font-size="42.6" text-anchor="middle" x="404.2" y="573.5">JAS</text>
<text class="sa" font-size="35" x="6.2" y="565.4">C</text>
<clipPath id="cfD"><rect x="786.3" y="587.2" width="579.9" height="414.7"/></clipPath>
<clipPath id="axD"><rect x="784.4" y="582.8" width="587.1" height="419.1"/></clipPath>
<g clip-path="url(#cfD)">
<rect x="784.4" y="582.8" width="587.1" height="419.1" fill="#cfd7da"/>
<path d="M780,580.5C843.3,536.5 936.8,574.6 1013.8,580.5C1019.7,581 1010,592.1 1008.8,598C1007.9,602.1 1006.9,606.4 1007.5,610.5C1008.2,614.9 1010,619.3 1012.5,623C1015.1,626.9 1019.2,629.7 1022.5,633C1025.8,636.3 1029.8,639.2 1032.5,643C1035.2,646.7 1037.4,651.1 1038.8,655.5C1039.9,659.5 1039.3,663.9 1040,668C1040.6,671.4 1039.9,675.8 1042.5,678C1045.7,680.7 1051.4,678.3 1055,680.5C1057.4,682 1059.6,685.4 1058.8,688C1057.5,691.6 1053.6,694.3 1050,695.5C1046.8,696.6 1043.2,695.2 1040,694.2C1036.5,693.1 1033.5,690.4 1030,689.2C1026.8,688.3 1023.1,686.7 1020,688C1017.3,689.1 1017.1,693.4 1015,695.5C1012.1,698.4 1007.7,699.9 1005,703C1002.6,705.8 1002,709.9 1000,713C997.8,716.5 995.4,720.1 992.5,723C989.6,725.9 985.8,728 982.5,730.5C979.2,733 975.9,735.6 972.5,738C970.1,739.7 967.9,743.7 965,743C952.8,740.1 941.4,733.4 930,728C913.3,720.1 897.9,707.5 880,703C864,699 846.5,704.2 830,703C824,702.6 818.2,696.1 812.5,698C808.3,699.4 809.7,706.6 807.5,710.5C805.9,713.3 802.6,715.1 801.2,718C798.4,724.3 799.5,732.7 795,738C791.6,742 780.5,748.2 780,743C774.9,689.6 736,611.1 780,580.5Z" fill="#e8d0ca"/>
<path d="M803.8,580.5C796.5,582 802.2,595.6 802.5,603C802.7,607.2 803.1,611.7 805,615.5C807.4,620.2 811,624.5 815,628C818.2,630.8 822.3,632.7 826.2,634.2C829.8,635.6 834.1,635 837.5,636.8C841.4,638.8 844.7,642.1 847.5,645.5C850.6,649.2 852,654.2 855,658C857.9,661.7 861.1,665.5 865,668C869.5,670.9 874.7,673.6 880,674.2C885,674.9 890.4,673.8 895,671.8C899,670 902.8,666.8 905,663C907.6,658.6 907.9,653 908.8,648C909.6,643.1 908.9,637.8 910,633C911,628.7 913.2,624.6 915,620.5C916.5,617.1 919,614.1 920,610.5C921.1,606.5 921.9,602.1 921.2,598C920.2,592 921.1,581.4 915,580.5C878.7,575.1 839.7,573.3 803.8,580.5Z" fill="#cfd7da"/>
<path d="M847.5,603C849.2,600.1 854.1,600 857.5,600.5C860.4,600.9 863.4,603 865,605.5C866.6,608 867.8,611.7 866.2,614.2C864.6,616.9 860.6,617.8 857.5,618C854.5,618.2 850.4,618 848.8,615.5C846.5,612.1 845.4,606.6 847.5,603Z" fill="#e8d0ca"/>
<path d="M943.8,680.5C943.8,676.4 949,673.8 952.5,671.8C956.2,669.6 960.7,668 965,668C967.1,668 970.4,669.7 970,671.8C969.2,675.2 965.3,677.2 962.5,679.2C959.5,681.4 956.2,684 952.5,684.2C949.4,684.5 943.8,683.6 943.8,680.5Z" fill="#cfd7da"/>
<path d="M900,763C897.2,765.1 902.2,769.8 903.8,773C905.5,776.5 907.3,780.2 910,783C913.6,786.9 917.9,790.3 922.5,793C927.9,796.2 933.9,798.9 940,800.5C946.4,802.2 953.5,801.8 960,803C966.7,804.3 973.4,806.4 980,808C986.6,809.6 993.3,811.9 1000,813C1006.5,814 1013.4,814.5 1020,814.2C1026.6,814 1033.4,812.8 1040,811.8C1046.6,810.7 1053.4,809.4 1060,808C1066.6,806.5 1073.6,805.3 1080,803C1085.2,801.1 1090.5,798.7 1095,795.5C1098.8,792.8 1102.5,789.5 1105,785.5C1106.8,782.6 1108.2,778.8 1107.5,775.5C1106.5,770.8 1103.6,766.2 1100,763C1095.9,759.3 1090.2,757.5 1085,755.5C1079.4,753.3 1073.4,751.6 1067.5,750.5C1060.2,749.1 1052.5,748.4 1045,748C1036.8,747.6 1028.2,748.3 1020,748C1011.7,747.7 1003.2,746.7 995,746C989.2,745.5 983.3,743.9 977.5,744.2C973.2,744.5 969.2,747.2 965,748C953.5,750.1 941.4,750.4 930,753C919.8,755.3 908.3,756.7 900,763Z" fill="#e8d0ca"/>
<path d="M777.5,765.5C800.3,740.4 843.9,783.9 876.2,794.2C880.2,795.5 866.9,790.3 863.8,793C861.2,795.2 865.5,799.7 866.2,803C867.6,808.8 867.4,815.2 870,820.5C872.1,824.7 876.1,827.9 880,830.5C883.7,833 888.2,834.4 892.5,835.5C898.2,836.9 904.2,837.8 910,838C916.6,838.2 923.4,836.5 930,836.8C936.6,837 943.6,837.4 950,839.2C955.3,840.8 960.5,843.5 965,846.8C969.3,849.8 973.4,853.6 976.2,858C978.1,860.9 979.4,864.7 978.8,868C978,871.8 975.1,875.1 972.5,878C969.7,881 966,883.3 962.5,885.5C958.6,887.9 954.2,889.8 950,891.8C944.3,894.4 938.5,897.3 932.5,899.2C926.9,901.1 920.8,902 915,903C908.4,904.2 901.5,904.6 895,906C888.3,907.5 881.5,909.6 875,911.8C868.3,914 861.8,917.3 855,919.2C849.4,920.9 843.4,922.5 837.5,922.5C833.2,922.5 828.8,921.1 825,919.2C822.1,917.9 820.5,914 817.5,913C804.6,908.6 781.1,916.1 777.5,903C765.6,859.2 747,799.1 777.5,765.5Z" fill="#e8d0ca"/>
<path d="M777.5,993C781.8,988.4 789.1,987.6 795,985.5C799.8,983.8 804.9,982.1 810,981.8C816.6,981.3 823.5,982 830,983C836.7,984.1 843.4,986.5 850,988C858.2,989.8 866.7,991.8 875,993C883.2,994.2 891.7,994.7 900,995.5C909.9,996.4 920.2,996.4 930,998C938.4,999.3 963.5,1003.9 955,1004.2C896.5,1006.6 836,1008 777.5,1004.2C773.8,1004 775,995.7 777.5,993Z" fill="#e8d0ca"/>
<path d="M1125.2,580.5C1119.1,582.9 1124.6,594.2 1126.5,600.5C1127.7,604.5 1130.7,608 1134,610.5C1137.6,613.2 1142.1,614.8 1146.5,615.5C1152.2,616.4 1158.3,616.4 1164,615.5C1168.8,614.7 1174.1,613.6 1177.8,610.5C1180.4,608.2 1181.4,604 1181.5,600.5C1181.8,593.9 1185.3,582.7 1179,580.5C1162.3,574.6 1141.8,574.2 1125.2,580.5Z" fill="#e8d0ca"/>
<path d="M1260.2,580.5C1271.7,576.9 1285.8,575.2 1296.5,580.5C1301.7,583.1 1297.2,592.6 1295.2,598C1293.8,602.1 1289.9,605.2 1286.5,608C1282.8,611.1 1277.8,612.5 1274,615.5C1270.3,618.4 1265.9,621.2 1264,625.5C1262,630 1262.3,635.5 1262.8,640.5C1263.2,645.6 1264.6,650.8 1266.5,655.5C1268.3,660 1271.7,663.8 1274,668C1276.2,672 1279.1,676 1280.2,680.5C1281.3,684.5 1281.3,689 1280.2,693C1279.1,697.5 1277.1,702 1274,705.5C1270.7,709.3 1266.1,712.2 1261.5,714.2C1256.9,716.4 1251.6,717.6 1246.5,718C1240.7,718.4 1234.6,718.1 1229,716.8C1223.8,715.5 1218.1,713.9 1214,710.5C1210.3,707.4 1208.1,702.5 1206.5,698C1204.8,693.3 1205.3,687.8 1204,683C1202.8,678.7 1200.4,674.7 1199,670.5C1197.7,666.5 1196,662.2 1196,658C1196,653 1197.2,647.7 1199,643C1200.7,638.5 1203.5,634.3 1206.5,630.5C1210.1,625.9 1214.7,621.9 1219,618C1223.8,613.7 1228.8,609.4 1234,605.5C1238.8,601.9 1244.7,599.6 1249,595.5C1253.5,591.2 1254.3,582.4 1260.2,580.5Z" fill="#e8d0ca"/>
<path d="M1370.2,730.5C1369.9,723.6 1362.4,742.1 1359,748C1356.2,752.8 1354.8,758.5 1351.5,763C1348.1,767.7 1343.7,772 1339,775.5C1333.7,779.5 1327.4,782.5 1321.5,785.5C1315.9,788.3 1309.9,790.9 1304,793C1298.3,795 1292.1,795.8 1286.5,798C1281.3,800 1275.8,802 1271.5,805.5C1267.4,808.8 1264.5,813.7 1261.5,818C1258.7,821.9 1256.8,826.6 1254,830.5C1251,834.8 1247.5,839.1 1244,843C1240.1,847.3 1234.6,850.6 1231.5,855.5C1228.7,859.9 1227.8,865.4 1226.5,870.5C1225.3,875.4 1225.2,880.6 1224,885.5C1222.7,890.6 1220.8,895.6 1219,900.5C1217.1,905.5 1213.7,910.2 1212.8,915.5C1212,919.6 1212.1,924.3 1214,928C1216.1,932.2 1220.1,935.5 1224,938C1228.5,940.9 1233.9,942.6 1239,944.2C1245.5,946.3 1252.4,947.8 1259,949.2C1265.6,950.7 1272.5,951.2 1279,953C1285.8,954.9 1292.6,957.5 1299,960.5C1305,963.3 1310.8,967 1316.5,970.5C1321.6,973.6 1326.5,977.2 1331.5,980.5C1336.5,983.8 1341.6,987.1 1346.5,990.5C1350.7,993.3 1354.5,996.9 1359,999.2C1362.5,1001.1 1370.1,1006.9 1370.2,1003C1374,913.2 1374.2,820.3 1370.2,730.5Z" fill="#e8d0ca"/>
<path d="M1292.8,920.5C1294.2,916.4 1298.1,913.3 1301.5,910.5C1305.2,907.4 1309.5,904.8 1314,903C1318.7,901.1 1323.9,898.7 1329,899.2C1332.2,899.6 1335.3,902.5 1336.5,905.5C1338,909.3 1338.3,914.3 1336.5,918C1334.7,921.7 1330.4,924.2 1326.5,925.5C1321,927.3 1314.8,927 1309,926.8C1304.8,926.6 1300.4,925.8 1296.5,924.2C1294.9,923.6 1292.2,922.1 1292.8,920.5Z" fill="#cfd7da"/>
<path d="M982.5,775.5C983,772 986.9,769.6 990,768C994.6,765.7 999.9,765 1005,764.2C1011.5,763.3 1018.4,763.3 1025,763C1031.6,762.7 1038.4,762.2 1045,762.5C1051.6,762.8 1058.5,763.5 1065,765C1070.1,766.2 1075.4,767.9 1080,770.5C1083.2,772.3 1086.8,774.6 1088,778C1089.1,781.2 1088.2,785.3 1086.2,788C1083.6,791.6 1079.2,793.9 1075,795.5C1069.5,797.7 1063.3,798.3 1057.5,799.2C1050.9,800.3 1044.1,801.5 1037.5,801.8C1030.9,802 1024,801.6 1017.5,800.5C1011.6,799.5 1005.5,798 1000,795.5C995.4,793.4 990.8,790.5 987.5,786.8C984.8,783.7 982,779.5 982.5,775.5Z" fill="#d49480"/>
<path d="M870,868C870,864.5 871.3,860.5 873.8,858C876.6,855 881,853.5 885,852.5C891.4,850.9 898.4,850.3 905,850C911.6,849.7 918.5,849.5 925,850.5C930.9,851.4 937,853 942.5,855.5C947.1,857.6 951.5,860.6 955,864.2C957.3,866.6 959.9,869.8 959.5,873C959,877 955.5,880.3 952.5,883C948.9,886.2 944.4,888.6 940,890.5C934.5,892.8 928.4,894.3 922.5,895.5C916,896.8 909.1,898.2 902.5,898C896.6,897.8 890.3,896.8 885,894.2C880.5,892.1 876.2,888.6 873.8,884.2C871,879.5 870,873.5 870,868Z" fill="#d49480"/>
<path d="M898,870.5C898,868 902.5,867.8 905,867.5C909.9,866.9 915.1,867.1 920,868C921.9,868.3 926.1,869.4 925,871C923,874 918.4,874.3 915,875.5C911.8,876.6 908.3,879 905,878C901.8,877 898,873.9 898,870.5Z" fill="#c05a3e"/>
<path d="M830,818C831.4,814.4 836.1,811.8 840,811.8C843.5,811.8 846.6,815.2 848.8,818C850.9,820.8 853.8,824.7 852.5,828C851.1,831.6 846.4,833.8 842.5,834.2C839,834.7 834.6,833.3 832.5,830.5C829.9,827.2 828.4,821.9 830,818Z" fill="#d49480"/>
<path d="M800,658C800,655 802.3,651.7 805,650.5C807,649.6 810.4,650.9 811.2,653C812.8,656.8 812.7,661.6 811.2,665.5C810.4,667.7 807,670.6 805,669.2C801.6,667 800,662.1 800,658Z" fill="#d49480"/>
<path d="M857.5,1004.2C852.9,1003.6 865.5,999 870,998C875.6,996.7 881.7,997.3 887.5,997.5C893.3,997.7 899.4,997.7 905,999.2C907.9,1000 915.5,1003.9 912.5,1004.2C894.4,1006.2 875.5,1006.9 857.5,1004.2Z" fill="#d49480"/>
<path d="M1242.8,873C1242.9,867.9 1244.2,862.6 1246.5,858C1248.9,853.3 1252.7,849.1 1256.5,845.5C1260.2,842 1264.3,838.7 1269,836.8C1273.6,834.8 1279,834.4 1284,834.2C1289.8,834 1295.9,834.1 1301.5,835.5C1306,836.6 1310.9,838.4 1314,841.8C1316.7,844.6 1317.8,849.1 1317.8,853C1317.8,858.1 1316.3,863.4 1314,868C1311.6,872.7 1307.9,877 1304,880.5C1299.6,884.5 1294.2,887.7 1289,890.5C1283.5,893.5 1277.4,895.7 1271.5,898C1266.6,899.9 1261.5,901.6 1256.5,903C1254.1,903.7 1250.9,905.9 1249,904.2C1246.1,901.7 1246,896.8 1245.2,893C1243.9,886.5 1242.5,879.6 1242.8,873Z" fill="#d49480"/>
<path d="M1370.2,784.2C1366.9,780.1 1360.8,789.8 1356.5,793C1353,795.6 1349.5,798.6 1346.5,801.8C1344.9,803.4 1341.1,805.9 1342.8,807.5C1345.4,810.2 1350.3,808.9 1354,809.2C1359.3,809.7 1367.3,814.5 1370.2,810C1374.9,802.9 1375.6,790.9 1370.2,784.2Z" fill="#d49480"/>
<path d="M1370.2,888C1369.3,882.8 1365.4,897.8 1364.5,903C1363.4,909.5 1363.4,916.5 1364.5,923C1365.3,927.5 1369.5,940 1370.2,935.5C1372.8,920 1373,903.4 1370.2,888Z" fill="#d49480"/>
<path d="M1245.2,859.2C1240.6,858.4 1250.6,851.2 1254,848C1257.7,844.5 1262,841.5 1266.5,839.2C1271.2,836.9 1276.3,835 1281.5,834.2C1287.2,833.4 1293.3,833.3 1299,834.2C1303.4,835 1308,836.5 1311.5,839.2C1314.5,841.7 1316.8,845.5 1317.8,849.2C1318.6,852.5 1319.8,858.8 1316.5,859.2C1293.2,862.5 1268.4,863.4 1245.2,859.2Z" fill="#d49480"/>
<path d="M878.8,798C879.1,795.1 882.1,792.2 885,791.8C888.1,791.2 891.1,793.8 893.8,795.5C896.9,797.6 899.9,800.2 902.5,803C904.9,805.6 907.4,808.5 908.8,811.8C909.8,814.4 911.3,818.2 909.5,820.5C907.5,823.1 903.2,823.2 900,823C896.5,822.8 892.9,821.3 890,819.2C886.9,817 884.3,813.9 882.5,810.5C880.5,806.7 878.2,802.3 878.8,798Z" fill="#81aebe"/>
<path d="M1087.8,711.8C1086.7,708.2 1087.8,704 1089,700.5C1090.8,695.2 1093.7,690.3 1096.5,685.5C1099.5,680.4 1103.2,675.5 1106.5,670.5C1109.8,665.5 1112.9,660.2 1116.5,655.5C1119.5,651.5 1122.3,646.8 1126.5,644.2C1130.1,642.1 1134.8,641.9 1139,641.8C1144,641.5 1149.3,641.4 1154,643C1158.2,644.4 1163.6,646.3 1165.2,650.5C1167.1,655.2 1163.9,660.6 1162.8,665.5C1161.4,671.4 1159.9,677.4 1157.8,683C1156.1,687.3 1154.4,691.9 1151.5,695.5C1148.9,698.7 1145.3,701.3 1141.5,703C1136.8,705.1 1131.4,705.4 1126.5,706.8C1120.7,708.3 1114.7,710 1109,711.8C1104,713.3 1099.2,716.8 1094,716.8C1091.4,716.8 1088.5,714.3 1087.8,711.8Z" fill="#81aebe"/>
<path d="M1240.2,754.2C1240.2,750.2 1242.3,745.8 1245.2,743C1248.9,739.6 1254.3,738.3 1259,736.8C1263.8,735.2 1269,733.9 1274,733.5C1279.8,733.1 1285.8,733.3 1291.5,734.2C1297.4,735.2 1303.4,737.1 1309,739.2C1314.2,741.2 1319.5,743.5 1324,746.8C1327.1,749 1330.8,751.8 1331.5,755.5C1332.2,759 1330,762.7 1327.8,765.5C1324.8,769.2 1320.7,772.1 1316.5,774.2C1311.9,776.7 1306.6,778.1 1301.5,779.2C1295.8,780.6 1289.8,781.5 1284,781.8C1278.2,782 1272.1,781.9 1266.5,780.5C1262,779.4 1257.7,777.1 1254,774.2C1250.5,771.6 1247.7,767.9 1245.2,764.2C1243.2,761.2 1240.2,757.9 1240.2,754.2Z" fill="#81aebe"/>
<path d="M993.8,845.5C994.3,842 995,838 997.5,835.5C1000.8,832.2 1005.5,830.4 1010,829.2C1016.4,827.5 1023.4,827.6 1030,826.8C1036.6,825.9 1043.5,825.5 1050,824.2C1056.7,823 1063.5,821.3 1070,819.2C1076.7,817.1 1083.4,814.2 1090,811.8C1096.6,809.3 1103.8,807.6 1110,804.2C1113.9,802.1 1117.6,799.1 1120.2,795.5C1122.4,792.7 1123.2,788.9 1124,785.5C1124.9,781.5 1124.6,777.1 1125.2,773C1125.8,769.6 1126.1,766 1127.8,763C1129.5,760 1132,756.8 1135.2,755.5C1138,754.5 1141.6,755.1 1144,756.8C1147,758.7 1148.2,762.6 1150.2,765.5C1152.7,768.8 1154.7,772.7 1157.8,775.5C1161,778.5 1164.9,781.2 1169,783C1173.7,785 1179,785.5 1184,786.8C1189,788 1194.1,789 1199,790.5C1203.6,791.9 1208.5,793.3 1212.8,795.5C1216.4,797.4 1220.2,799.8 1222.8,803C1224.9,805.8 1226.3,809.5 1226.5,813C1226.7,817.2 1225.7,821.7 1224,825.5C1222.3,829.3 1219.4,832.6 1216.5,835.5C1213.6,838.4 1209.8,840.5 1206.5,843C1203.2,845.5 1199.7,847.9 1196.5,850.5C1193.1,853.3 1188.2,855.2 1186.5,859.2C1185.3,862 1187.2,865.6 1189,868C1191.5,871.3 1196.1,872.6 1199,875.5C1201.1,877.6 1204.5,880.1 1204,883C1203.4,886.5 1198.8,887.8 1196.5,890.5C1193.8,893.6 1191.2,897 1189,900.5C1186.6,904.4 1184,908.6 1182.8,913C1181.4,917.8 1180.8,923.1 1181.5,928C1182.1,932.4 1183.6,937.2 1186.5,940.5C1189.7,944.1 1194.7,945.8 1199,948C1204.6,950.8 1210.7,953 1216.5,955.5C1222.3,958 1228.2,960.7 1234,963C1240.5,965.6 1247.4,968 1254,970.5C1260.6,973 1267.4,975.5 1274,978C1280.6,980.5 1287.5,982.7 1294,985.5C1299.1,987.7 1304.4,989.9 1309,993C1313.6,996.1 1327,1004.1 1321.5,1004.2C1195.7,1008.1 1065.9,1007 940,1004.2C934.3,1004.1 929.9,998.4 925,995.5C920.9,993.1 916.3,991 912.5,988C908.8,985.1 906.2,980.9 902.5,978C898.7,975 893.8,973.5 890,970.5C886.3,967.6 882.4,964.5 880,960.5C877.8,956.8 876.2,952.3 876.2,948C876.2,943.7 877.5,939 880,935.5C883.1,931.2 887.8,927.9 892.5,925.5C898.7,922.4 905.9,921.3 912.5,919.2C919.1,917.2 926,915.4 932.5,913C938.4,910.8 944.3,908.1 950,905.5C955,903.2 960.2,900.8 965,898C970.1,895 975.7,892.1 980,888C983.7,884.5 986.5,880 988.8,875.5C991.1,870.8 992.9,865.6 993.8,860.5C994.6,855.6 993,850.4 993.8,845.5Z" fill="#81aebe"/>
<path d="M1073.8,860.5C1075.8,857.4 1080.4,856.6 1084,855.5C1088.8,854.1 1094,853 1099,853C1104.8,853 1110.9,853.8 1116.5,855.5C1121.8,857.1 1126.8,860 1131.5,863C1134.7,865 1139.7,866.7 1140.2,870.5C1140.8,874.4 1136.5,877.5 1134,880.5C1131.1,884.1 1126.6,886.6 1124,890.5C1121.5,894.2 1119.4,898.6 1119,903C1118.6,907.2 1119.5,911.8 1121.5,915.5C1123.8,919.6 1128.4,922 1131.5,925.5C1135,929.4 1138.5,933.7 1141.5,938C1144.3,941.9 1146.8,946.2 1149,950.5C1150.6,953.7 1153.2,957 1152.8,960.5C1152.3,964 1149.5,967.4 1146.5,969.2C1142.9,971.4 1138.2,971.9 1134,971.8C1128.9,971.5 1123.9,969.4 1119,968C1112.7,966.1 1106.3,963.6 1100,961.8C1093.5,959.9 1086.7,958 1080,956.8C1073.5,955.5 1066.6,954.5 1060,954.2C1053.4,954 1046.6,955.1 1040,955.5C1033.4,955.9 1026.6,957.2 1020,956.8C1014.9,956.4 1009.7,955.1 1005,953C1001.2,951.3 997.5,948.7 995,945.5C992.8,942.7 990.9,939 991.2,935.5C991.8,930.9 994.3,926.4 997.5,923C1001.6,918.7 1007.4,916.1 1012.5,913C1018.2,909.5 1024.1,906.1 1030,903C1035.7,900 1041.9,897.5 1047.5,894.2C1052.7,891.3 1058,888.1 1062.5,884.2C1066.3,881 1070.4,877.5 1072.5,873C1074.3,869.3 1071.5,864 1073.8,860.5Z" fill="#cfd7da"/>
<path d="M1067.5,918C1067.7,914.5 1068.6,910.3 1071.2,908C1074.2,905.5 1078.7,904.4 1082.5,905C1087.5,905.7 1094,907.2 1096.2,911.8C1098,915.4 1094,920 1091.2,923C1088.3,926.3 1084.3,929.2 1080,930C1076.6,930.6 1072.5,929.2 1070,926.8C1067.8,924.7 1067.3,921 1067.5,918Z" fill="#81aebe"/>
<path d="M1091.5,828C1092.8,823.5 1097.7,820.7 1101.5,818C1106,814.8 1111.5,812.8 1116.5,810.5C1122.2,807.9 1127.8,803.7 1134,803C1139.1,802.4 1144.1,805.4 1149,806.8C1154.8,808.3 1160.7,810.1 1166.5,811.8C1172.3,813.4 1178.8,813.8 1184,816.8C1187.2,818.6 1190.5,821.8 1191,825.5C1191.5,829.1 1188.8,832.7 1186.5,835.5C1183.9,838.7 1180.2,841.2 1176.5,843C1171.8,845.3 1166.6,846.9 1161.5,848C1155.8,849.2 1149.8,850.2 1144,850C1138.1,849.8 1132.2,848.3 1126.5,846.8C1120.6,845.1 1114.7,842.7 1109,840.5C1104.8,838.9 1100.1,838.1 1096.5,835.5C1094.1,833.8 1090.7,830.9 1091.5,828Z" fill="#3888ba"/>
<path d="M987.5,903C989.1,898 994.2,894.6 997.5,890.5C1000.8,886.4 1004.6,882.4 1007.5,878C1010,874.1 1011.9,869.7 1013.8,865.5C1015.6,861.4 1015.9,856.4 1018.8,853C1021.6,849.5 1025.6,846.3 1030,845.5C1033.5,844.9 1038.6,846 1040,849.2C1041.8,853.5 1038.4,858.5 1037.5,863C1036.7,867.1 1036.7,871.7 1035,875.5C1033.3,879.3 1030.4,882.6 1027.5,885.5C1024.6,888.4 1020.9,890.7 1017.5,893C1013.5,895.7 1009.3,898.3 1005,900.5C1001,902.6 997,905.4 992.5,906C990.6,906.3 986.9,904.8 987.5,903Z" fill="#3888ba"/>
<path d="M902.5,940.5C903.2,936.8 906.7,933.6 910,931.8C915.3,928.9 921.6,928 927.5,926.8C933.2,925.5 939.2,924.7 945,924.2C949.1,923.9 954.3,921.6 957.5,924.2C960.4,926.6 957.7,931.9 958.8,935.5C960.2,940.7 962.6,945.7 965,950.5C967.2,954.8 969.9,958.9 972.5,963C974.9,966.8 980,969.8 980,974.2C980,977.5 975.4,979.1 972.5,980.5C968.6,982.4 964.3,983.8 960,984.2C953.4,985 946.5,985.3 940,984.2C934,983.2 927.8,981.1 922.5,978C918.5,975.6 915,971.9 912.5,968C909.6,963.5 908.1,958 906.2,953C904.8,949 901.8,944.7 902.5,940.5Z" fill="#3888ba"/>
<path d="M1005,1004.2C999.8,1003.5 1010.8,994.9 1015,991.8C1019.3,988.5 1024.9,987.1 1030,985.5C1036.5,983.5 1043.3,981.9 1050,981C1055.7,980.2 1061.8,979.7 1067.5,980.5C1072.7,981.2 1077.7,983.3 1082.5,985.5C1086.9,987.5 1091.3,989.9 1095,993C1098.8,996.2 1109.9,1003.6 1105,1004.2C1072.3,1008.3 1037.7,1008.8 1005,1004.2Z" fill="#3888ba"/>
</g>
<g clip-path="url(#cfD)" class="cl">
<path d="M916.2,598 L931.2,587.5"/>
<path d="M785,618C790,621.3 795.3,624.4 800,628C804,631 808.4,634 811.2,638C812.7,640 812.1,643 812.5,645.5"/>
<path d="M785,669.2 L810,668"/>
<path d="M831.2,625.5 L832.5,648"/>
<path d="M1039,660.5C1041.5,656.8 1043.2,652.2 1046.5,649.2C1050.8,645.4 1056.1,642.4 1061.5,640.5C1067.4,638.4 1074,637.7 1080.2,637.5C1085.2,637.3 1090.6,637.4 1095.2,639.2C1097.4,640.1 1099.9,642.7 1099.5,645C1098.9,649.1 1095.6,652.5 1092.8,655.5C1089.1,659.4 1084.7,662.7 1080.2,665.5C1075.6,668.5 1070.4,670.9 1065.2,673C1061.3,674.6 1056.9,675.7 1052.8,676.8C1049.1,677.7 1045,680.8 1041.5,679.2C1038.8,678 1039.4,673.5 1039,670.5C1038.6,667.2 1039,663.8 1039,660.5"/>
<path d="M945,708C948.3,705.5 951.6,702.9 955,700.5C959.9,697.1 964.9,693.5 970,690.5C974.8,687.7 979.8,685 985,683C991.4,680.5 998.2,677.9 1005,676.8C1013.1,675.4 1021.8,676.4 1030,675.5C1033.4,675.1 1036.7,673.8 1040,673"/>
<path d="M1045.2,678C1045.7,683.8 1045.7,689.8 1046.5,695.5C1047.3,701.3 1047.6,707.7 1050.2,713C1052.3,717.2 1055.9,721.4 1060.2,723C1066.4,725.3 1073.6,724.6 1080.2,724.2C1088.6,723.8 1097.1,722.1 1105.2,720.5C1113.6,718.8 1122,716.3 1130.2,714.2C1137.2,712.5 1144.4,710.3 1151.5,709.2C1158,708.3 1164.9,707.8 1171.5,708C1178.1,708.2 1185,709.3 1191.5,710.5C1198.2,711.8 1204.8,714.2 1211.5,715.5C1218,716.8 1224.8,718.1 1231.5,718.5C1238.1,718.9 1244.9,718.6 1251.5,718C1258.1,717.4 1265,716.4 1271.5,715C1278.2,713.5 1285,711.4 1291.5,709.2C1298.2,707 1305,704.4 1311.5,701.8C1318.2,699 1325,696.1 1331.5,693C1338.2,689.9 1344.9,686.4 1351.5,683C1356.5,680.4 1361.5,677.6 1366.5,675"/>
<path d="M1174,587.5C1176.1,591 1179.4,594.1 1180.2,598C1181.1,602.1 1180.2,606.5 1179,610.5C1178.1,613.3 1175.7,615.5 1174,618"/>
<path d="M1151.5,643C1151.9,645.5 1151.2,648.5 1152.8,650.5C1154.8,653.1 1158.2,655 1161.5,655.5C1167.2,656.3 1173.3,655.2 1179,654.2C1185.7,653.1 1192.5,651.1 1199,649.2C1205.7,647.4 1212.5,645.3 1219,643C1225.3,640.8 1231.6,638 1237.8,635.5"/>
<path d="M1261.5,623C1267.3,620.9 1273,618 1279,616.8C1285.5,615.4 1292.4,615.4 1299,615C1306.4,614.6 1314.1,615.2 1321.5,614.2C1328.2,613.3 1335.1,611.5 1341.5,609.2C1346.7,607.4 1351.5,604.2 1356.5,601.8C1359.8,600.1 1363.2,598.4 1366.5,596.8"/>
<path d="M915,755.5C917.5,758.8 919.5,762.7 922.5,765.5C926.2,768.9 930.3,772.4 935,774.2C941.3,776.7 948.3,777.5 955,778C963.2,778.6 971.8,777.7 980,777.5C988.3,777.3 996.8,776.5 1005,776.8C1013.3,777 1021.8,778.2 1030,779.2C1038.3,780.3 1046.7,781.9 1055,783C1061.6,783.9 1068.4,784.7 1075,785.5C1080,786.1 1085,786.8 1090,787.5"/>
<path d="M1139,791C1147.2,790.7 1155.8,790.5 1164,790C1172.3,789.5 1180.8,788.9 1189,788C1197.3,787 1205.8,785.8 1214,784.2C1220.7,783 1227.5,781.4 1234,779.2C1240,777.3 1245.8,774.4 1251.5,771.8C1257.4,769 1263.3,766 1269,763C1274.9,759.9 1280.6,756 1286.5,753C1292.9,749.8 1299.8,746.8 1306.5,744.2C1313,741.8 1319.9,739.9 1326.5,738C1333.1,736.1 1339.9,734.3 1346.5,732.5C1353.1,730.7 1359.9,729 1366.5,727.2"/>
<path d="M876.2,795.5C879.1,798.8 881.8,802.5 885,805.5C888.8,809.1 892.8,813.1 897.5,815.5C902.9,818.2 909.1,819.6 915,820.5C923.2,821.7 931.7,821.8 940,821.8C948.3,821.8 956.7,820.5 965,820.5C973.3,820.5 981.9,820.4 990,821.8C996.8,822.9 1003.6,825.5 1010,828C1015.2,830 1020,833.2 1025,835.5C1029.9,837.7 1034.9,840.1 1040,841.8C1042.9,842.7 1046,843.3 1049,843.5C1053.9,843.8 1059.1,843.7 1064,843C1072.3,841.9 1080.8,839.6 1089,838C1097.2,836.4 1105.8,834.6 1114,833C1122.2,831.4 1130.8,829.6 1139,828C1147.2,826.4 1155.8,824.6 1164,823C1172.2,821.4 1180.8,819.9 1189,818C1196.5,816.2 1204.2,814.1 1211.5,811.8C1218.2,809.6 1225,807.1 1231.5,804.2C1237.4,801.7 1243.3,798.5 1249,795.5C1254.9,792.4 1260.6,788.6 1266.5,785.5C1272.2,782.5 1278.1,779.3 1284,776.8C1290.5,773.9 1297.3,771.4 1304,769.2C1310.5,767.2 1317.4,765.7 1324,764.2C1331.4,762.6 1339,761.2 1346.5,760C1353.1,759 1359.9,758.3 1366.5,757.5"/>
<path d="M787.5,798C794.9,798.4 802.6,798.4 810,799.2C816.7,800 823.6,801.1 830,803C836,804.8 842.1,807.3 847.5,810.5C852.1,813.2 856.5,816.6 860,820.5C863.2,824.1 865.5,828.6 867.5,833C869.7,837.8 870.2,843.3 872.5,848C874.3,851.7 876.6,855.7 880,858C884.3,860.9 889.9,862 895,863C901.5,864.3 908.4,864.4 915,865C921.6,865.6 928.5,865.6 935,866.8C941.7,867.9 948.6,869.5 955,871.8C960.2,873.6 965,876.9 970,879.2C974.9,881.5 979.8,884.2 985,885.5C991.5,887.1 998.3,888 1005,888C1011.7,888 1018.5,886.7 1025,885.5C1031.7,884.2 1038.5,882.5 1045,880.5C1050.9,878.7 1056.7,876.4 1062.5,874.2C1067.9,872.3 1073.4,870.1 1078.8,868"/>
<path d="M1126.5,853.5C1133.1,852.5 1139.9,851.3 1146.5,850.5C1153.9,849.6 1161.6,849.1 1169,848.5C1177.2,847.8 1185.9,848.2 1194,846.8C1200.8,845.5 1207.5,842.7 1214,840.5C1220.7,838.2 1227.3,835.1 1234,833C1240.5,831 1247.3,829.1 1254,828C1260.5,827 1267.4,826.8 1274,826.8C1280.6,826.8 1287.4,827.4 1294,828C1300.6,828.6 1307.4,830 1314,830.5C1320.6,831 1327.4,831.2 1334,831C1339.8,830.8 1345.7,829.8 1351.5,829.2C1356.4,828.8 1361.5,828.4 1366.5,828"/>
<path d="M823.8,920.5C828.3,921.2 832.9,922.7 837.5,922.5C843.4,922.3 849.4,920.9 855,919.2C861.8,917.3 868.3,913.9 875,911.8C881.5,909.7 888.2,907.6 895,906.8C901.5,905.9 908.4,906.1 915,906.8C921.7,907.4 928.4,909.1 935,910.5C941.6,911.9 948.4,913.7 955,915C961.6,916.3 968.4,917.7 975,918.5C981.6,919.3 988.4,920.1 995,920C1001.6,919.9 1008.5,919.3 1015,918C1021.8,916.6 1028.5,914 1035,911.8C1041.7,909.5 1048.4,906.7 1055,904.2C1060.4,902.2 1065.9,900.1 1071.2,898"/>
<path d="M1117.8,883C1123.1,881.8 1128.6,880.1 1134,879.2C1139.7,878.3 1145.7,877.6 1151.5,877.5C1157.3,877.4 1163.3,877.8 1169,878.5C1174.8,879.2 1180.8,880.5 1186.5,881.8C1192.3,883 1198.1,885 1204,886C1209.7,887 1215.7,887.9 1221.5,888C1227.3,888.1 1233.3,887.6 1239,886.8C1244.9,885.8 1250.7,883.7 1256.5,882.5C1262.2,881.3 1268.2,879.9 1274,879.2C1279.7,878.6 1285.7,878.4 1291.5,878.5C1298.1,878.6 1304.9,879.5 1311.5,880C1318.1,880.5 1324.9,880.9 1331.5,881.8C1337.3,882.5 1343.3,883.8 1349,885C1354.8,886.2 1360.7,887.8 1366.5,889.2"/>
<path d="M787.5,999.2C793.3,998 799.3,997 805,995.5C811.7,993.7 818.5,991.5 825,989.2C831.7,987 838.4,984.2 845,981.8C851.6,979.3 858.4,976.7 865,974.2C871.6,971.8 878.3,968.9 885,966.8C891.5,964.7 898.3,962.9 905,961.8C911.5,960.6 918.4,960.3 925,960C933.2,959.7 941.8,960.1 950,960C958.3,959.9 966.8,959.8 975,959.2C983.3,958.7 991.8,958 1000,956.8C1008.3,955.5 1016.8,953.4 1025,951.8C1033.2,950.1 1041.8,948.5 1050,946.8C1056.2,945.4 1062.6,943.9 1068.8,942.5"/>
<path d="M1117.8,935C1124.8,934.2 1131.9,932.8 1139,932.5C1145.6,932.2 1152.4,932.6 1159,933C1165.6,933.4 1172.4,934.6 1179,935C1185.6,935.4 1192.4,935.6 1199,935.5C1205.6,935.4 1212.4,934.9 1219,934.2C1225.6,933.6 1232.4,932.6 1239,931.8C1245.6,930.9 1252.4,929.9 1259,929.2C1265.6,928.6 1272.4,928.1 1279,928C1285.6,927.9 1292.4,928.3 1299,928.8C1305.6,929.2 1312.4,929.8 1319,930.5C1326.4,931.2 1334.1,932.1 1341.5,933C1349.8,934 1358.2,935 1366.5,936"/>
<path d="M1116.5,999.2C1123.9,998.4 1131.6,997.4 1139,996.8C1147.2,996 1155.7,995.5 1164,995C1172.2,994.5 1180.7,993.9 1189,993.5C1197.2,993.1 1205.8,993 1214,992.5C1220.6,992.1 1227.4,991 1234,990.5C1240.6,990 1247.4,989.5 1254,989.2C1260.6,989 1267.4,988.6 1274,988.8C1280.6,988.9 1287.4,989.2 1294,990C1300.7,990.8 1307.4,992.3 1314,993.5C1320.6,994.7 1327.4,996.4 1334,997.5C1340.6,998.6 1347.4,999.4 1354,1000C1358.1,1000.4 1362.4,1000.3 1366.5,1000.5"/>
<path d="M863.8,793C864.2,798.8 864.5,804.7 865,810.5C865.7,817.9 866.5,825.6 867.5,833C868.2,838 869.2,843 870,848"/>
</g>
<g clip-path="url(#axD)" class="ld">
<path d="M782.4,790L787.9,791L791.9,795L793,800L789.4,803L782.4,804.5Z"/>
<path d="M812.2,647.5L816.5,646.8L821.4,643.5L825,644.6L830.6,649.6L837.7,655.9L844.7,662.3L851.8,668.7L858.9,674.3L865.9,680L873,684.9L881.5,690.6L888.5,694.8L895.6,698.3L899.8,701.9L905.5,702.6L911.1,701.1L916.8,702.6L919.6,701.9L921.7,704.7L925.2,708.2L932.3,709.6L939.4,710.3L945,708.9L950.7,704L956.3,699.7L962,695.5L966.2,693L968.6,695.7L967.2,700.6L964.4,705.6L960.8,710.5L957.3,714.8L955.9,719L958,723.2L961.5,726.1L964.4,724.7L967.2,726.8L964.4,730.3L962.2,733.1L964.4,736L969.3,738.1L973.5,737.4L979.2,733.8L986.3,733.1L987,735.3L982,737.4L977.8,739.5L975,743L969.3,743.7L963.7,745.1L958,748L950.9,750.1L942.5,751.5L934,752.2L933.7,752.4L926.7,751.7L919.6,751.3L912.5,753.1L905.5,756.6L898.4,762.3L892.8,767.9L887.1,775L882.9,780.6L881.5,786.3L880,791.9L877.2,795.5L873,791.9L868.7,789.8L861.7,787.7L854.6,784.9L847.6,782.1L840.5,778.5L833.4,775L826.4,771.5L819.3,767.9L812.2,766.5L805.2,767.9L798.1,770.8L792.5,774.3L786.8,777.8L779.8,781.4L779.8,740.8L785.4,741.8L791.1,743.9L796.7,742.5L800.9,738.3L802.4,731.2L800.2,724.1L798.1,718.5L800.2,716.7L805.2,714.6L809.4,711L813.7,704L816.2,695.5L817.2,687L816.2,678.5L814.4,670.1L811.5,663L809.1,657.4L810.1,651.7Z"/>
<path d="M826.4,581.1L822.1,589.6L818.6,596.6L817.6,603.7L819.3,610.7L822.8,617.8L826.4,624.9L829.9,628.8L832.7,627L835.6,622L838.4,616.4L840.5,610.7L842.6,605.1L846.1,599.4L850.4,595.9L856,595.2L859.6,598.7L864.5,600.2L870.2,600.9L874.4,603.7L878.6,606.5L881.5,610.7L883.6,616.4L885,622L886.4,624.2L888.2,622L889.2,617.1L892.1,612.9L894.9,608.6L893.5,603.7L891.3,598L889.2,592.4L887.8,588.1L882.9,589.6L877.9,588.9L874.4,588.1L872.3,581.1Z"/>
<path d="M969,715.5L971.4,719.7L974.3,723.2L975.7,720.4L976.4,716.2L980.6,711.9L984.8,709.1L987.7,707L990.5,702.8L994.7,699.2L1000.4,696.4L1007.4,695.7L1013.1,693.6L1017.3,691.5L1018.7,688.6L1014.5,688.6L1008.9,690.1L1004.6,687.9L1000.4,686.5L996.9,688.6L993.3,693.6L989.1,697.8L984.8,702.1L980.6,706.3L975,711.2L970.7,714.1Z"/>
<path d="M1029.3,687.9L1031.5,690.8L1034.3,691L1037.1,687.2L1041.3,684.4L1047,680.9L1052.6,676.6L1058.3,672.4L1062.5,668.2L1066.8,668.9L1072.4,668.2L1078.1,664.6L1083.7,659.7L1089.4,656.9L1096.4,654.7L1103.5,652.6L1110.6,653.3L1114.1,650.5L1113.4,645.6L1109.1,643.4L1103.5,644.9L1097.8,648.4L1092.2,652.6L1086.5,654L1080.9,654.7L1078.1,652.6L1076.7,647.7L1073.1,649.1L1071.7,654L1069.6,658.3L1065.4,659.7L1061.1,663.2L1058.3,661.8L1055.5,666L1049.8,669.6L1044.2,672.4L1039.9,673.1L1039.2,676.6L1035,680.2L1031.5,683.7Z"/>
<path d="M1018.7,715.5L1020.2,720.4L1025.8,719.7L1032.9,716.9L1034.3,714.1L1030,712.2L1024.4,713.4Z"/>
<path d="M987.7,731L990.5,730L992.2,731.7L989.8,732.9Z"/>
<path d="M994.5,731.7L998.3,727.8L1003.2,727.2L1003.9,729.6L1000.4,731.7L996.1,733.8Z"/>
<path d="M1005.3,722.5L1008.2,721.8L1009.6,724L1006.7,724.9Z"/>
<path d="M1136.9,641L1140.7,642.8L1145.7,641.5L1151.9,638L1159.4,633.5L1166.9,628L1174.4,623L1181.9,618L1185.7,615.2L1181.9,613.5L1175.7,614.8L1170.7,616.5L1168.2,620.5L1161.9,623.5L1155.7,627.2L1149.4,629.8L1144.4,632.2L1140.7,636Z"/>
<path d="M1193.4,603.5L1195.7,602.8L1197.4,604.8L1195.7,606.5L1193.9,605.5Z"/>
<path d="M1231.9,589L1234.4,592.2L1238.2,591.5L1243.2,588L1248.2,584L1251.9,578.5L1246.9,578.5L1240.7,584.8L1235.7,587.2Z"/>
<path d="M779.8,797.6L784,798.3L788.2,801.8L792.5,808.9L796.7,816L799.5,818.1L802.4,816L803.8,814.5L803.1,820.2L801.7,827.3L802.4,835.7L803.8,844.2L806.6,851.3L812.2,855.5L816.5,861.2L819.3,866.8L821.4,872.5L824.3,875.3L826.4,882.4L828.5,889.5L828.9,896.5L826.4,903.6L823.5,910.6L819.3,916.3L813.7,920.5L809.4,927.6L806.6,934.7L805.9,941.7L806.6,947.4L803.8,946.7L800.2,944.5L798.1,947.4L793.9,951.6L790.4,955.8L788.9,953L789.6,947.4L786.8,946L779.8,947.4Z"/>
<path d="M789.1,659L790.9,656L793.9,654.9L796.9,656.5L798.3,659.5L796.4,662.3L792.9,662.9L790.2,661.5Z"/>
<path d="M782.4,647L786.4,648L787.8,651L787.4,654.5L782.4,655.5Z"/>
<path d="M785.1,828.5L787.3,824.8L791.7,822.9L794.5,826.6L792.9,831.6L789.8,837.3L786,836.6Z" fill="#e8d0ca" stroke="#000" stroke-width="1.1"/>
</g>
<g clip-path="url(#axD)" class="se" font-size="27" text-anchor="middle">
<text x="904.2" y="601" transform="rotate(0 904.2 601)" dy="9.8">6</text>
<text x="1250.2" y="626.8" transform="rotate(-20 1250.2 626.8)" dy="9.8">6</text>
<text x="1114.5" y="788.5" transform="rotate(3 1114.5 788.5)" dy="9.8">10</text>
<text x="1102.8" y="859.2" transform="rotate(-20 1102.8 859.2)" dy="9.8">14</text>
<text x="1093.5" y="888" transform="rotate(-20 1093.5 888)" dy="9.8">16</text>
<text x="1094" y="937.5" transform="rotate(-8 1094 937.5)" dy="9.8">18</text>
<text x="1081" y="1000.5" transform="rotate(-5 1081 1000.5)" dy="9.8">20</text>
</g>
<rect x="868" y="750.2" width="167.9" height="125.1" fill="none" stroke="#000" stroke-width="2.1"/>
<rect x="784.4" y="582.8" width="587.1" height="419.1" fill="none" stroke="#000" stroke-width="1.9"/>
<g class="se" font-size="27.6">
<path d="M783.5,624.7 h-3" stroke="#000" stroke-width="1"/>
<text x="780.1" y="635.7" text-anchor="end">46°N</text>
<path d="M783.5,708.5 h-3" stroke="#000" stroke-width="1"/>
<text x="780.1" y="719.5" text-anchor="end">44°N</text>
<path d="M783.5,792.3 h-3" stroke="#000" stroke-width="1"/>
<text x="780.1" y="803.3" text-anchor="end">42°N</text>
<path d="M783.5,876.2 h-3" stroke="#000" stroke-width="1"/>
<text x="780.1" y="887.2" text-anchor="end">40°N</text>
<path d="M783.5,960 h-3" stroke="#000" stroke-width="1"/>
<text x="780.1" y="971" text-anchor="end">38°N</text>
<text x="952.1" y="1027.1" text-anchor="middle">145°E</text>
<text x="1161.8" y="1027.1" text-anchor="middle">150°E</text>
<text x="1371.5" y="1027.1" text-anchor="middle">155°E</text>
</g>
<text class="se" font-size="42.6" text-anchor="middle" x="1108.6" y="573.5">OND</text>
<text class="sa" font-size="35" x="725.5" y="565">D</text>
<rect x="400.8" y="1058.6" width="61" height="27.4" fill="#252c6a"/>
<rect x="461.5" y="1058.6" width="61" height="27.4" fill="#1854c0"/>
<rect x="522.2" y="1058.6" width="61" height="27.4" fill="#3888ba"/>
<rect x="582.8" y="1058.6" width="61" height="27.4" fill="#81aebe"/>
<rect x="643.5" y="1058.6" width="61" height="27.4" fill="#cfd7da"/>
<rect x="704.2" y="1058.6" width="61" height="27.4" fill="#e8d0ca"/>
<rect x="764.9" y="1058.6" width="61" height="27.4" fill="#d49480"/>
<rect x="825.6" y="1058.6" width="61" height="27.4" fill="#c05a3e"/>
<rect x="886.2" y="1058.6" width="61" height="27.4" fill="#9e1a28"/>
<rect x="946.9" y="1058.6" width="61" height="27.4" fill="#600e22"/>
<path d="M400.8,1058.6 L371,1072.3 L400.8,1086 Z" fill="#181c43"/>
<path d="M1007.6,1058.6 L1039,1072.3 L1007.6,1086 Z" fill="#3c0912"/>
<path d="M371,1072.3 L400.8,1058.6 L1007.6,1058.6 L1039,1072.3 L1007.6,1086 L400.8,1086 Z" fill="none" stroke="#000" stroke-width="1.8" stroke-linejoin="miter"/>
<g class="se" font-size="27.6" text-anchor="middle">
<path d="M400.8,1086 v4.5" stroke="#000" stroke-width="1.1"/>
<text x="400.8" y="1114.6">−2.5</text>
<path d="M522.2,1086 v4.5" stroke="#000" stroke-width="1.1"/>
<text x="522.2" y="1114.6">−1.5</text>
<path d="M643.5,1086 v4.5" stroke="#000" stroke-width="1.1"/>
<text x="643.5" y="1114.6">−0.5</text>
<path d="M764.9,1086 v4.5" stroke="#000" stroke-width="1.1"/>
<text x="764.9" y="1114.6">0.5</text>
<path d="M886.2,1086 v4.5" stroke="#000" stroke-width="1.1"/>
<text x="886.2" y="1114.6">1.5</text>
<path d="M1007.6,1086 v4.5" stroke="#000" stroke-width="1.1"/>
<text x="1007.6" y="1114.6">2.5</text>
</g>
</svg></body></html>
